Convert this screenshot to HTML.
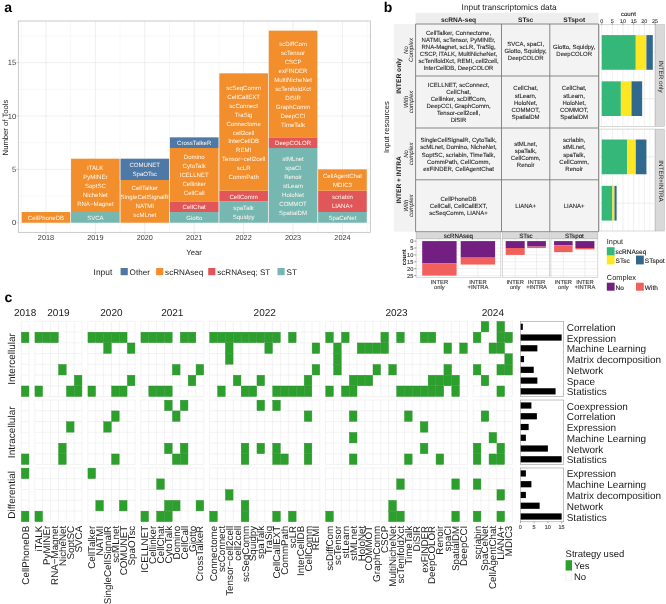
<!DOCTYPE html>
<html><head><meta charset="utf-8"><title>figure</title>
<style>
html,body{margin:0;padding:0;background:#ffffff;}
body{width:666px;height:604px;overflow:hidden;}
svg{display:block;font-family:"Liberation Sans",sans-serif;will-change:transform;text-rendering:geometricPrecision;}
</style></head>
<body>
<svg width="666" height="604" viewBox="0 0 666 604">
<rect x="0" y="0" width="666" height="604" fill="#ffffff"/>
<text x="4.30" y="11.70" font-size="14" fill="#000" font-weight="bold">a</text>
<line x1="18.30" y1="196.02" x2="370.30" y2="196.02" stroke="#f0f0f0" stroke-width="0.5"/>
<line x1="18.30" y1="142.67" x2="370.30" y2="142.67" stroke="#f0f0f0" stroke-width="0.5"/>
<line x1="18.30" y1="89.32" x2="370.30" y2="89.32" stroke="#f0f0f0" stroke-width="0.5"/>
<line x1="18.30" y1="35.97" x2="370.30" y2="35.97" stroke="#f0f0f0" stroke-width="0.5"/>
<line x1="21.24" y1="21.00" x2="21.24" y2="232.30" stroke="#f0f0f0" stroke-width="0.5"/>
<line x1="70.66" y1="21.00" x2="70.66" y2="232.30" stroke="#f0f0f0" stroke-width="0.5"/>
<line x1="120.08" y1="21.00" x2="120.08" y2="232.30" stroke="#f0f0f0" stroke-width="0.5"/>
<line x1="169.50" y1="21.00" x2="169.50" y2="232.30" stroke="#f0f0f0" stroke-width="0.5"/>
<line x1="218.92" y1="21.00" x2="218.92" y2="232.30" stroke="#f0f0f0" stroke-width="0.5"/>
<line x1="268.34" y1="21.00" x2="268.34" y2="232.30" stroke="#f0f0f0" stroke-width="0.5"/>
<line x1="317.76" y1="21.00" x2="317.76" y2="232.30" stroke="#f0f0f0" stroke-width="0.5"/>
<line x1="367.18" y1="21.00" x2="367.18" y2="232.30" stroke="#f0f0f0" stroke-width="0.5"/>
<line x1="18.30" y1="222.70" x2="370.30" y2="222.70" stroke="#e4e4e4" stroke-width="0.6"/>
<line x1="18.30" y1="169.35" x2="370.30" y2="169.35" stroke="#e4e4e4" stroke-width="0.6"/>
<line x1="18.30" y1="116.00" x2="370.30" y2="116.00" stroke="#e4e4e4" stroke-width="0.6"/>
<line x1="18.30" y1="62.65" x2="370.30" y2="62.65" stroke="#e4e4e4" stroke-width="0.6"/>
<line x1="45.95" y1="21.00" x2="45.95" y2="232.30" stroke="#e4e4e4" stroke-width="0.6"/>
<line x1="95.37" y1="21.00" x2="95.37" y2="232.30" stroke="#e4e4e4" stroke-width="0.6"/>
<line x1="144.79" y1="21.00" x2="144.79" y2="232.30" stroke="#e4e4e4" stroke-width="0.6"/>
<line x1="194.21" y1="21.00" x2="194.21" y2="232.30" stroke="#e4e4e4" stroke-width="0.6"/>
<line x1="243.63" y1="21.00" x2="243.63" y2="232.30" stroke="#e4e4e4" stroke-width="0.6"/>
<line x1="293.05" y1="21.00" x2="293.05" y2="232.30" stroke="#e4e4e4" stroke-width="0.6"/>
<line x1="342.47" y1="21.00" x2="342.47" y2="232.30" stroke="#e4e4e4" stroke-width="0.6"/>
<rect x="21.64" y="212.03" width="48.62" height="10.67" fill="#F28E2B"/>
<rect x="71.06" y="212.03" width="48.62" height="10.67" fill="#76B7B2"/>
<rect x="71.06" y="158.68" width="48.62" height="53.35" fill="#F28E2B"/>
<rect x="120.48" y="180.02" width="48.62" height="42.68" fill="#F28E2B"/>
<rect x="120.48" y="158.68" width="48.62" height="21.34" fill="#4E79A7"/>
<rect x="169.90" y="212.03" width="48.62" height="10.67" fill="#76B7B2"/>
<rect x="169.90" y="201.36" width="48.62" height="10.67" fill="#E15759"/>
<rect x="169.90" y="148.01" width="48.62" height="53.35" fill="#F28E2B"/>
<rect x="169.90" y="137.34" width="48.62" height="10.67" fill="#4E79A7"/>
<rect x="219.32" y="201.36" width="48.62" height="21.34" fill="#76B7B2"/>
<rect x="219.32" y="190.69" width="48.62" height="10.67" fill="#E15759"/>
<rect x="219.32" y="73.32" width="48.62" height="117.37" fill="#F28E2B"/>
<rect x="268.74" y="148.01" width="48.62" height="74.69" fill="#76B7B2"/>
<rect x="268.74" y="137.34" width="48.62" height="10.67" fill="#E15759"/>
<rect x="268.74" y="30.64" width="48.62" height="106.70" fill="#F28E2B"/>
<rect x="318.16" y="212.03" width="48.62" height="10.67" fill="#76B7B2"/>
<rect x="318.16" y="190.69" width="48.62" height="21.34" fill="#E15759"/>
<rect x="318.16" y="169.35" width="48.62" height="21.34" fill="#F28E2B"/>
<text x="45.95" y="219.87" font-size="6.05" text-anchor="middle" fill="#fff8ee">CellPhoneDB</text>
<text x="95.37" y="219.87" font-size="6.05" text-anchor="middle" fill="#fff8ee">SVCA</text>
<text x="95.37" y="170.04" font-size="6.05" text-anchor="middle" fill="#fff8ee">iTALK</text>
<text x="95.37" y="178.95" font-size="6.05" text-anchor="middle" fill="#fff8ee">PyMINEr</text>
<text x="95.37" y="187.86" font-size="6.05" text-anchor="middle" fill="#fff8ee">SoptSC</text>
<text x="95.37" y="196.77" font-size="6.05" text-anchor="middle" fill="#fff8ee">NicheNet</text>
<text x="95.37" y="205.68" font-size="6.05" text-anchor="middle" fill="#fff8ee">RNA−Magnet</text>
<text x="144.79" y="190.49" font-size="6.05" text-anchor="middle" fill="#fff8ee">CellTalker</text>
<text x="144.79" y="199.40" font-size="6.05" text-anchor="middle" fill="#fff8ee">SingleCellSignalR</text>
<text x="144.79" y="208.31" font-size="6.05" text-anchor="middle" fill="#fff8ee">NATMI</text>
<text x="144.79" y="217.22" font-size="6.05" text-anchor="middle" fill="#fff8ee">scMLnet</text>
<text x="144.79" y="167.39" font-size="6.05" text-anchor="middle" fill="#fff8ee">COMUNET</text>
<text x="144.79" y="176.30" font-size="6.05" text-anchor="middle" fill="#fff8ee">SpaOTsc</text>
<text x="194.21" y="219.87" font-size="6.05" text-anchor="middle" fill="#fff8ee">Giotto</text>
<text x="194.21" y="209.19" font-size="6.05" text-anchor="middle" fill="#fff8ee">CellChat</text>
<text x="194.21" y="159.37" font-size="6.05" text-anchor="middle" fill="#fff8ee">Domino</text>
<text x="194.21" y="168.28" font-size="6.05" text-anchor="middle" fill="#fff8ee">CytoTalk</text>
<text x="194.21" y="177.19" font-size="6.05" text-anchor="middle" fill="#fff8ee">ICELLNET</text>
<text x="194.21" y="186.09" font-size="6.05" text-anchor="middle" fill="#fff8ee">Cellinker</text>
<text x="194.21" y="195.00" font-size="6.05" text-anchor="middle" fill="#fff8ee">CellCall</text>
<text x="194.21" y="145.17" font-size="6.05" text-anchor="middle" fill="#fff8ee">CrossTalkeR</text>
<text x="243.63" y="210.07" font-size="6.05" text-anchor="middle" fill="#fff8ee">spaTalk</text>
<text x="243.63" y="218.98" font-size="6.05" text-anchor="middle" fill="#fff8ee">Squidpy</text>
<text x="243.63" y="198.52" font-size="6.05" text-anchor="middle" fill="#fff8ee">CellComm</text>
<text x="243.63" y="89.95" font-size="6.05" text-anchor="middle" fill="#fff8ee">scSeqComm</text>
<text x="243.63" y="98.86" font-size="6.05" text-anchor="middle" fill="#fff8ee">CellCallEXT</text>
<text x="243.63" y="107.78" font-size="6.05" text-anchor="middle" fill="#fff8ee">scConnect</text>
<text x="243.63" y="116.69" font-size="6.05" text-anchor="middle" fill="#fff8ee">TraSig</text>
<text x="243.63" y="125.59" font-size="6.05" text-anchor="middle" fill="#fff8ee">Connectome</text>
<text x="243.63" y="134.50" font-size="6.05" text-anchor="middle" fill="#fff8ee">cell2cell</text>
<text x="243.63" y="143.41" font-size="6.05" text-anchor="middle" fill="#fff8ee">InterCellDB</text>
<text x="243.63" y="152.32" font-size="6.05" text-anchor="middle" fill="#fff8ee">REMI</text>
<text x="243.63" y="161.24" font-size="6.05" text-anchor="middle" fill="#fff8ee">Tensor−cell2cell</text>
<text x="243.63" y="170.14" font-size="6.05" text-anchor="middle" fill="#fff8ee">scLR</text>
<text x="243.63" y="179.06" font-size="6.05" text-anchor="middle" fill="#fff8ee">CommPath</text>
<text x="293.05" y="161.12" font-size="6.05" text-anchor="middle" fill="#fff8ee">stMLnet</text>
<text x="293.05" y="170.03" font-size="6.05" text-anchor="middle" fill="#fff8ee">spaCI</text>
<text x="293.05" y="178.94" font-size="6.05" text-anchor="middle" fill="#fff8ee">Renoir</text>
<text x="293.05" y="187.85" font-size="6.05" text-anchor="middle" fill="#fff8ee">stLearn</text>
<text x="293.05" y="196.76" font-size="6.05" text-anchor="middle" fill="#fff8ee">HoloNet</text>
<text x="293.05" y="205.68" font-size="6.05" text-anchor="middle" fill="#fff8ee">COMMOT</text>
<text x="293.05" y="214.59" font-size="6.05" text-anchor="middle" fill="#fff8ee">SpatialDM</text>
<text x="293.05" y="145.17" font-size="6.05" text-anchor="middle" fill="#fff8ee">DeepCOLOR</text>
<text x="293.05" y="46.39" font-size="6.05" text-anchor="middle" fill="#fff8ee">scDiffCom</text>
<text x="293.05" y="55.30" font-size="6.05" text-anchor="middle" fill="#fff8ee">scTensor</text>
<text x="293.05" y="64.21" font-size="6.05" text-anchor="middle" fill="#fff8ee">CSCP</text>
<text x="293.05" y="73.12" font-size="6.05" text-anchor="middle" fill="#fff8ee">exFINDER</text>
<text x="293.05" y="82.03" font-size="6.05" text-anchor="middle" fill="#fff8ee">MultiNicheNet</text>
<text x="293.05" y="90.94" font-size="6.05" text-anchor="middle" fill="#fff8ee">scTenifoldXct</text>
<text x="293.05" y="99.85" font-size="6.05" text-anchor="middle" fill="#fff8ee">DiSIR</text>
<text x="293.05" y="108.76" font-size="6.05" text-anchor="middle" fill="#fff8ee">GraphComm</text>
<text x="293.05" y="117.67" font-size="6.05" text-anchor="middle" fill="#fff8ee">DeepCCI</text>
<text x="293.05" y="126.58" font-size="6.05" text-anchor="middle" fill="#fff8ee">TimeTalk</text>
<text x="342.47" y="219.87" font-size="6.05" text-anchor="middle" fill="#fff8ee">SpaCeNet</text>
<text x="342.47" y="199.41" font-size="6.05" text-anchor="middle" fill="#fff8ee">scriabin</text>
<text x="342.47" y="208.31" font-size="6.05" text-anchor="middle" fill="#fff8ee">LIANA+</text>
<text x="342.47" y="178.06" font-size="6.05" text-anchor="middle" fill="#fff8ee">CellAgentChat</text>
<text x="342.47" y="186.97" font-size="6.05" text-anchor="middle" fill="#fff8ee">MDIC3</text>
<rect x="18.30" y="21.00" width="352.00" height="211.30" fill="none" stroke="#b3b3b3" stroke-width="0.7"/>
<line x1="16.30" y1="222.70" x2="18.30" y2="222.70" stroke="#b3b3b3" stroke-width="0.6"/>
<text x="16.20" y="225.40" font-size="7.6" text-anchor="end" fill="#3a3a3a">0</text>
<line x1="16.30" y1="169.35" x2="18.30" y2="169.35" stroke="#b3b3b3" stroke-width="0.6"/>
<text x="16.20" y="172.05" font-size="7.6" text-anchor="end" fill="#3a3a3a">5</text>
<line x1="16.30" y1="116.00" x2="18.30" y2="116.00" stroke="#b3b3b3" stroke-width="0.6"/>
<text x="16.20" y="118.70" font-size="7.6" text-anchor="end" fill="#3a3a3a">10</text>
<line x1="16.30" y1="62.65" x2="18.30" y2="62.65" stroke="#b3b3b3" stroke-width="0.6"/>
<text x="16.20" y="65.35" font-size="7.6" text-anchor="end" fill="#3a3a3a">15</text>
<line x1="45.95" y1="232.30" x2="45.95" y2="234.30" stroke="#b3b3b3" stroke-width="0.6"/>
<text x="45.95" y="240.00" font-size="7.3" text-anchor="middle" fill="#3a3a3a">2018</text>
<line x1="95.37" y1="232.30" x2="95.37" y2="234.30" stroke="#b3b3b3" stroke-width="0.6"/>
<text x="95.37" y="240.00" font-size="7.3" text-anchor="middle" fill="#3a3a3a">2019</text>
<line x1="144.79" y1="232.30" x2="144.79" y2="234.30" stroke="#b3b3b3" stroke-width="0.6"/>
<text x="144.79" y="240.00" font-size="7.3" text-anchor="middle" fill="#3a3a3a">2020</text>
<line x1="194.21" y1="232.30" x2="194.21" y2="234.30" stroke="#b3b3b3" stroke-width="0.6"/>
<text x="194.21" y="240.00" font-size="7.3" text-anchor="middle" fill="#3a3a3a">2021</text>
<line x1="243.63" y1="232.30" x2="243.63" y2="234.30" stroke="#b3b3b3" stroke-width="0.6"/>
<text x="243.63" y="240.00" font-size="7.3" text-anchor="middle" fill="#3a3a3a">2022</text>
<line x1="293.05" y1="232.30" x2="293.05" y2="234.30" stroke="#b3b3b3" stroke-width="0.6"/>
<text x="293.05" y="240.00" font-size="7.3" text-anchor="middle" fill="#3a3a3a">2023</text>
<line x1="342.47" y1="232.30" x2="342.47" y2="234.30" stroke="#b3b3b3" stroke-width="0.6"/>
<text x="342.47" y="240.00" font-size="7.3" text-anchor="middle" fill="#3a3a3a">2024</text>
<text x="194.00" y="255.40" font-size="7.7" text-anchor="middle" fill="#1a1a1a">Year</text>
<text x="7.90" y="127.50" font-size="7.7" text-anchor="middle" fill="#1a1a1a" transform="rotate(-90 7.90 127.50)">Number of Tools</text>
<text x="93.60" y="274.50" font-size="8.4" fill="#1a1a1a">Input</text>
<rect x="120.60" y="268.00" width="7.20" height="7.20" fill="#4E79A7"/>
<text x="129.60" y="274.50" font-size="8.1" fill="#1a1a1a">Other</text>
<rect x="156.10" y="268.00" width="7.20" height="7.20" fill="#F28E2B"/>
<text x="165.10" y="274.50" font-size="8.1" fill="#1a1a1a">scRNAseq</text>
<rect x="208.20" y="268.00" width="7.20" height="7.20" fill="#E15759"/>
<text x="217.20" y="274.50" font-size="8.1" fill="#1a1a1a">scRNAseq; ST</text>
<rect x="277.50" y="268.00" width="7.20" height="7.20" fill="#76B7B2"/>
<text x="286.50" y="274.50" font-size="8.1" fill="#1a1a1a">ST</text>
<text x="383.80" y="11.70" font-size="14" fill="#000" font-weight="bold">b</text>
<text x="509.10" y="9.90" font-size="8.3" text-anchor="middle" fill="#1a1a1a">Input transcriptomics data</text>
<rect x="415.60" y="12.80" width="183.00" height="11.20" fill="#eeeeee"/>
<rect x="393.80" y="24.00" width="21.80" height="207.70" fill="#f2f2f2"/>
<rect x="415.60" y="24.00" width="183.00" height="207.70" fill="#f3f3f3"/>
<line x1="415.60" y1="24.00" x2="415.60" y2="231.70" stroke="#7a7a7a" stroke-width="0.9"/>
<line x1="501.50" y1="24.00" x2="501.50" y2="231.70" stroke="#7a7a7a" stroke-width="0.9"/>
<line x1="549.80" y1="24.00" x2="549.80" y2="231.70" stroke="#7a7a7a" stroke-width="0.9"/>
<line x1="598.60" y1="24.00" x2="598.60" y2="231.70" stroke="#7a7a7a" stroke-width="0.9"/>
<line x1="415.60" y1="24.00" x2="598.60" y2="24.00" stroke="#7a7a7a" stroke-width="0.9"/>
<line x1="415.60" y1="76.00" x2="598.60" y2="76.00" stroke="#7a7a7a" stroke-width="0.9"/>
<line x1="415.60" y1="128.00" x2="598.60" y2="128.00" stroke="#7a7a7a" stroke-width="0.9"/>
<line x1="415.60" y1="179.80" x2="598.60" y2="179.80" stroke="#7a7a7a" stroke-width="0.9"/>
<line x1="415.60" y1="231.70" x2="598.60" y2="231.70" stroke="#7a7a7a" stroke-width="0.9"/>
<text x="458.55" y="21.80" font-size="6.6" text-anchor="middle" fill="#1a1a1a" font-weight="bold">scRNA-seq</text>
<text x="525.65" y="21.80" font-size="6.6" text-anchor="middle" fill="#1a1a1a" font-weight="bold">STsc</text>
<text x="574.20" y="21.80" font-size="6.6" text-anchor="middle" fill="#1a1a1a" font-weight="bold">STspot</text>
<text x="458.55" y="34.85" font-size="6.0" text-anchor="middle" fill="#262626" stroke="#262626" stroke-width="0.1">CellTalker, Connectome,</text>
<text x="458.55" y="41.95" font-size="6.0" text-anchor="middle" fill="#262626" stroke="#262626" stroke-width="0.1">NATMI, scTensor, PyMINEr,</text>
<text x="458.55" y="49.05" font-size="6.0" text-anchor="middle" fill="#262626" stroke="#262626" stroke-width="0.1">RNA-Magnet, scLR, TraSig,</text>
<text x="458.55" y="56.15" font-size="6.0" text-anchor="middle" fill="#262626" stroke="#262626" stroke-width="0.1">CSCP, iTALK, MultiNicheNet,</text>
<text x="458.55" y="63.25" font-size="6.0" text-anchor="middle" fill="#262626" stroke="#262626" stroke-width="0.1">scTenifoldXct, REMI, cell2cell,</text>
<text x="458.55" y="70.35" font-size="6.0" text-anchor="middle" fill="#262626" stroke="#262626" stroke-width="0.1">InterCellDB, DeepCOLOR</text>
<text x="525.65" y="45.50" font-size="6.0" text-anchor="middle" fill="#262626" stroke="#262626" stroke-width="0.1">SVCA, spaCI,</text>
<text x="525.65" y="52.60" font-size="6.0" text-anchor="middle" fill="#262626" stroke="#262626" stroke-width="0.1">Giotto, Squidpy,</text>
<text x="525.65" y="59.70" font-size="6.0" text-anchor="middle" fill="#262626" stroke="#262626" stroke-width="0.1">DeepCOLOR</text>
<text x="574.20" y="49.05" font-size="6.0" text-anchor="middle" fill="#262626" stroke="#262626" stroke-width="0.1">Giotto, Squidpy,</text>
<text x="574.20" y="56.15" font-size="6.0" text-anchor="middle" fill="#262626" stroke="#262626" stroke-width="0.1">DeepCOLOR</text>
<text x="458.55" y="86.85" font-size="6.0" text-anchor="middle" fill="#262626" stroke="#262626" stroke-width="0.1">ICELLNET, scConnect,</text>
<text x="458.55" y="93.95" font-size="6.0" text-anchor="middle" fill="#262626" stroke="#262626" stroke-width="0.1">CellChat,</text>
<text x="458.55" y="101.05" font-size="6.0" text-anchor="middle" fill="#262626" stroke="#262626" stroke-width="0.1">Cellinker, scDiffCom,</text>
<text x="458.55" y="108.15" font-size="6.0" text-anchor="middle" fill="#262626" stroke="#262626" stroke-width="0.1">DeepCCI, GraphComm,</text>
<text x="458.55" y="115.25" font-size="6.0" text-anchor="middle" fill="#262626" stroke="#262626" stroke-width="0.1">Tensor-cell2cell,</text>
<text x="458.55" y="122.35" font-size="6.0" text-anchor="middle" fill="#262626" stroke="#262626" stroke-width="0.1">DiSIR</text>
<text x="525.65" y="90.40" font-size="6.0" text-anchor="middle" fill="#262626" stroke="#262626" stroke-width="0.1">CellChat,</text>
<text x="525.65" y="97.50" font-size="6.0" text-anchor="middle" fill="#262626" stroke="#262626" stroke-width="0.1">stLearn,</text>
<text x="525.65" y="104.60" font-size="6.0" text-anchor="middle" fill="#262626" stroke="#262626" stroke-width="0.1">HoloNet,</text>
<text x="525.65" y="111.70" font-size="6.0" text-anchor="middle" fill="#262626" stroke="#262626" stroke-width="0.1">COMMOT,</text>
<text x="525.65" y="118.80" font-size="6.0" text-anchor="middle" fill="#262626" stroke="#262626" stroke-width="0.1">SpatialDM</text>
<text x="574.20" y="90.40" font-size="6.0" text-anchor="middle" fill="#262626" stroke="#262626" stroke-width="0.1">CellChat,</text>
<text x="574.20" y="97.50" font-size="6.0" text-anchor="middle" fill="#262626" stroke="#262626" stroke-width="0.1">stLearn,</text>
<text x="574.20" y="104.60" font-size="6.0" text-anchor="middle" fill="#262626" stroke="#262626" stroke-width="0.1">HoloNet,</text>
<text x="574.20" y="111.70" font-size="6.0" text-anchor="middle" fill="#262626" stroke="#262626" stroke-width="0.1">COMMOT,</text>
<text x="574.20" y="118.80" font-size="6.0" text-anchor="middle" fill="#262626" stroke="#262626" stroke-width="0.1">SpatialDM</text>
<text x="458.55" y="142.30" font-size="6.0" text-anchor="middle" fill="#262626" stroke="#262626" stroke-width="0.1">SingleCellSignalR, CytoTalk,</text>
<text x="458.55" y="149.40" font-size="6.0" text-anchor="middle" fill="#262626" stroke="#262626" stroke-width="0.1">scMLnet, Domino, NicheNet,</text>
<text x="458.55" y="156.50" font-size="6.0" text-anchor="middle" fill="#262626" stroke="#262626" stroke-width="0.1">SoptSC, scriabin, TimeTalk,</text>
<text x="458.55" y="163.60" font-size="6.0" text-anchor="middle" fill="#262626" stroke="#262626" stroke-width="0.1">CommPath, CellComm,</text>
<text x="458.55" y="170.70" font-size="6.0" text-anchor="middle" fill="#262626" stroke="#262626" stroke-width="0.1">exFINDER, CellAgentChat</text>
<text x="525.65" y="145.85" font-size="6.0" text-anchor="middle" fill="#262626" stroke="#262626" stroke-width="0.1">stMLnet,</text>
<text x="525.65" y="152.95" font-size="6.0" text-anchor="middle" fill="#262626" stroke="#262626" stroke-width="0.1">spaTalk,</text>
<text x="525.65" y="160.05" font-size="6.0" text-anchor="middle" fill="#262626" stroke="#262626" stroke-width="0.1">CellComm,</text>
<text x="525.65" y="167.15" font-size="6.0" text-anchor="middle" fill="#262626" stroke="#262626" stroke-width="0.1">Renoir</text>
<text x="574.20" y="142.30" font-size="6.0" text-anchor="middle" fill="#262626" stroke="#262626" stroke-width="0.1">scriabin,</text>
<text x="574.20" y="149.40" font-size="6.0" text-anchor="middle" fill="#262626" stroke="#262626" stroke-width="0.1">stMLnet,</text>
<text x="574.20" y="156.50" font-size="6.0" text-anchor="middle" fill="#262626" stroke="#262626" stroke-width="0.1">spaTalk,</text>
<text x="574.20" y="163.60" font-size="6.0" text-anchor="middle" fill="#262626" stroke="#262626" stroke-width="0.1">CellComm,</text>
<text x="574.20" y="170.70" font-size="6.0" text-anchor="middle" fill="#262626" stroke="#262626" stroke-width="0.1">Renoir</text>
<text x="458.55" y="201.25" font-size="6.0" text-anchor="middle" fill="#262626" stroke="#262626" stroke-width="0.1">CellPhoneDB</text>
<text x="458.55" y="208.35" font-size="6.0" text-anchor="middle" fill="#262626" stroke="#262626" stroke-width="0.1">CellCall, CellCallEXT,</text>
<text x="458.55" y="215.45" font-size="6.0" text-anchor="middle" fill="#262626" stroke="#262626" stroke-width="0.1">scSeqComm, LIANA+</text>
<text x="525.65" y="208.35" font-size="6.0" text-anchor="middle" fill="#262626" stroke="#262626" stroke-width="0.1">LIANA+</text>
<text x="574.20" y="208.35" font-size="6.0" text-anchor="middle" fill="#262626" stroke="#262626" stroke-width="0.1">LIANA+</text>
<text x="0" y="0" font-size="6.7" text-anchor="middle" fill="#1a1a1a" font-weight="bold" transform="translate(400.60 76.00) rotate(-90)">INTER only</text>
<text x="0" y="0" font-size="6.6" text-anchor="middle" fill="#1a1a1a" font-weight="bold" transform="translate(400.60 179.85) rotate(-90)">INTER + INTRA</text>
<text x="0" y="0" font-size="6.1" text-anchor="middle" fill="#1a1a1a" font-style="italic" transform="translate(408.00 50.00) rotate(-90)">No</text>
<text x="0" y="0" font-size="6.1" text-anchor="middle" fill="#1a1a1a" font-style="italic" transform="translate(412.90 50.00) rotate(-90)">Complex</text>
<text x="0" y="0" font-size="6.1" text-anchor="middle" fill="#1a1a1a" font-style="italic" transform="translate(408.00 102.00) rotate(-90)">With</text>
<text x="0" y="0" font-size="6.1" text-anchor="middle" fill="#1a1a1a" font-style="italic" transform="translate(412.90 102.00) rotate(-90)">complex</text>
<text x="0" y="0" font-size="6.1" text-anchor="middle" fill="#1a1a1a" font-style="italic" transform="translate(408.00 153.90) rotate(-90)">No</text>
<text x="0" y="0" font-size="6.1" text-anchor="middle" fill="#1a1a1a" font-style="italic" transform="translate(412.90 153.90) rotate(-90)">complex</text>
<text x="0" y="0" font-size="6.1" text-anchor="middle" fill="#1a1a1a" font-style="italic" transform="translate(408.00 205.75) rotate(-90)">With</text>
<text x="0" y="0" font-size="6.1" text-anchor="middle" fill="#1a1a1a" font-style="italic" transform="translate(412.90 205.75) rotate(-90)">complex</text>
<text x="0" y="0" font-size="7.5" text-anchor="middle" fill="#1a1a1a" transform="translate(388.70 127.20) rotate(-90)">Input resources</text>
<rect x="599.30" y="24.70" width="55.90" height="101.70" fill="#ffffff"/>
<line x1="607.03" y1="24.70" x2="607.03" y2="126.40" stroke="#f0f0f0" stroke-width="0.5"/>
<line x1="617.68" y1="24.70" x2="617.68" y2="126.40" stroke="#f0f0f0" stroke-width="0.5"/>
<line x1="628.33" y1="24.70" x2="628.33" y2="126.40" stroke="#f0f0f0" stroke-width="0.5"/>
<line x1="638.98" y1="24.70" x2="638.98" y2="126.40" stroke="#f0f0f0" stroke-width="0.5"/>
<line x1="649.62" y1="24.70" x2="649.62" y2="126.40" stroke="#f0f0f0" stroke-width="0.5"/>
<line x1="601.70" y1="24.70" x2="601.70" y2="126.40" stroke="#e4e4e4" stroke-width="0.6"/>
<line x1="612.35" y1="24.70" x2="612.35" y2="126.40" stroke="#e4e4e4" stroke-width="0.6"/>
<line x1="623.00" y1="24.70" x2="623.00" y2="126.40" stroke="#e4e4e4" stroke-width="0.6"/>
<line x1="633.65" y1="24.70" x2="633.65" y2="126.40" stroke="#e4e4e4" stroke-width="0.6"/>
<line x1="644.30" y1="24.70" x2="644.30" y2="126.40" stroke="#e4e4e4" stroke-width="0.6"/>
<line x1="654.95" y1="24.70" x2="654.95" y2="126.40" stroke="#e4e4e4" stroke-width="0.6"/>
<line x1="599.30" y1="52.44" x2="655.20" y2="52.44" stroke="#e4e4e4" stroke-width="0.6"/>
<line x1="599.30" y1="98.66" x2="655.20" y2="98.66" stroke="#e4e4e4" stroke-width="0.6"/>
<rect x="601.70" y="35.10" width="34.08" height="34.67" fill="#35B779"/>
<rect x="635.78" y="35.10" width="10.65" height="34.67" fill="#FDE725"/>
<rect x="646.43" y="35.10" width="6.39" height="34.67" fill="#31688E"/>
<rect x="601.70" y="81.33" width="19.17" height="34.67" fill="#35B779"/>
<rect x="620.87" y="81.33" width="10.65" height="34.67" fill="#FDE725"/>
<rect x="631.52" y="81.33" width="10.65" height="34.67" fill="#31688E"/>
<rect x="599.30" y="24.70" width="55.90" height="101.70" fill="none" stroke="#c8c8c8" stroke-width="0.7"/>
<rect x="655.20" y="24.70" width="9.10" height="101.70" fill="#d9d9d9" stroke="#b0b0b0" stroke-width="0.5"/>
<text x="0" y="0" font-size="6.3" text-anchor="middle" fill="#1a1a1a" transform="translate(659.00 76.55) rotate(90)">INTER only</text>
<rect x="599.30" y="129.10" width="55.90" height="101.90" fill="#ffffff"/>
<line x1="607.03" y1="129.10" x2="607.03" y2="231.00" stroke="#f0f0f0" stroke-width="0.5"/>
<line x1="617.68" y1="129.10" x2="617.68" y2="231.00" stroke="#f0f0f0" stroke-width="0.5"/>
<line x1="628.33" y1="129.10" x2="628.33" y2="231.00" stroke="#f0f0f0" stroke-width="0.5"/>
<line x1="638.98" y1="129.10" x2="638.98" y2="231.00" stroke="#f0f0f0" stroke-width="0.5"/>
<line x1="649.62" y1="129.10" x2="649.62" y2="231.00" stroke="#f0f0f0" stroke-width="0.5"/>
<line x1="601.70" y1="129.10" x2="601.70" y2="231.00" stroke="#e4e4e4" stroke-width="0.6"/>
<line x1="612.35" y1="129.10" x2="612.35" y2="231.00" stroke="#e4e4e4" stroke-width="0.6"/>
<line x1="623.00" y1="129.10" x2="623.00" y2="231.00" stroke="#e4e4e4" stroke-width="0.6"/>
<line x1="633.65" y1="129.10" x2="633.65" y2="231.00" stroke="#e4e4e4" stroke-width="0.6"/>
<line x1="644.30" y1="129.10" x2="644.30" y2="231.00" stroke="#e4e4e4" stroke-width="0.6"/>
<line x1="654.95" y1="129.10" x2="654.95" y2="231.00" stroke="#e4e4e4" stroke-width="0.6"/>
<line x1="599.30" y1="156.89" x2="655.20" y2="156.89" stroke="#e4e4e4" stroke-width="0.6"/>
<line x1="599.30" y1="203.21" x2="655.20" y2="203.21" stroke="#e4e4e4" stroke-width="0.6"/>
<rect x="601.70" y="139.52" width="25.56" height="34.74" fill="#35B779"/>
<rect x="627.26" y="139.52" width="8.52" height="34.74" fill="#FDE725"/>
<rect x="635.78" y="139.52" width="10.65" height="34.74" fill="#31688E"/>
<rect x="601.70" y="185.84" width="10.65" height="34.74" fill="#35B779"/>
<rect x="612.35" y="185.84" width="2.13" height="34.74" fill="#FDE725"/>
<rect x="614.48" y="185.84" width="2.13" height="34.74" fill="#31688E"/>
<rect x="599.30" y="129.10" width="55.90" height="101.90" fill="none" stroke="#c8c8c8" stroke-width="0.7"/>
<rect x="655.20" y="129.10" width="9.10" height="101.90" fill="#d9d9d9" stroke="#b0b0b0" stroke-width="0.5"/>
<text x="0" y="0" font-size="6.3" text-anchor="middle" fill="#1a1a1a" transform="translate(659.00 181.05) rotate(90)">INTER+INTRA</text>
<line x1="601.70" y1="23.20" x2="601.70" y2="24.70" stroke="#555" stroke-width="0.6"/>
<text x="601.70" y="22.80" font-size="5.4" text-anchor="middle" fill="#3a3a3a" stroke="#3a3a3a" stroke-width="0.12">0</text>
<line x1="612.35" y1="23.20" x2="612.35" y2="24.70" stroke="#555" stroke-width="0.6"/>
<text x="612.35" y="22.80" font-size="5.4" text-anchor="middle" fill="#3a3a3a" stroke="#3a3a3a" stroke-width="0.12">5</text>
<line x1="623.00" y1="23.20" x2="623.00" y2="24.70" stroke="#555" stroke-width="0.6"/>
<text x="623.00" y="22.80" font-size="5.4" text-anchor="middle" fill="#3a3a3a" stroke="#3a3a3a" stroke-width="0.12">10</text>
<line x1="633.65" y1="23.20" x2="633.65" y2="24.70" stroke="#555" stroke-width="0.6"/>
<text x="633.65" y="22.80" font-size="5.4" text-anchor="middle" fill="#3a3a3a" stroke="#3a3a3a" stroke-width="0.12">15</text>
<line x1="644.30" y1="23.20" x2="644.30" y2="24.70" stroke="#555" stroke-width="0.6"/>
<text x="644.30" y="22.80" font-size="5.4" text-anchor="middle" fill="#3a3a3a" stroke="#3a3a3a" stroke-width="0.12">20</text>
<line x1="654.95" y1="23.20" x2="654.95" y2="24.70" stroke="#555" stroke-width="0.6"/>
<text x="654.95" y="22.80" font-size="5.4" text-anchor="middle" fill="#3a3a3a" stroke="#3a3a3a" stroke-width="0.12">25</text>
<text x="628.40" y="16.20" font-size="6.1" text-anchor="middle" fill="#1a1a1a" stroke="#1a1a1a" stroke-width="0.12">count</text>
<rect x="416.10" y="238.80" width="84.70" height="38.50" fill="#ffffff"/>
<line x1="416.10" y1="244.55" x2="500.80" y2="244.55" stroke="#f0f0f0" stroke-width="0.5"/>
<line x1="416.10" y1="251.45" x2="500.80" y2="251.45" stroke="#f0f0f0" stroke-width="0.5"/>
<line x1="416.10" y1="258.35" x2="500.80" y2="258.35" stroke="#f0f0f0" stroke-width="0.5"/>
<line x1="416.10" y1="265.25" x2="500.80" y2="265.25" stroke="#f0f0f0" stroke-width="0.5"/>
<line x1="416.10" y1="272.15" x2="500.80" y2="272.15" stroke="#f0f0f0" stroke-width="0.5"/>
<line x1="416.10" y1="241.10" x2="500.80" y2="241.10" stroke="#e4e4e4" stroke-width="0.6"/>
<line x1="416.10" y1="248.00" x2="500.80" y2="248.00" stroke="#e4e4e4" stroke-width="0.6"/>
<line x1="416.10" y1="254.90" x2="500.80" y2="254.90" stroke="#e4e4e4" stroke-width="0.6"/>
<line x1="416.10" y1="261.80" x2="500.80" y2="261.80" stroke="#e4e4e4" stroke-width="0.6"/>
<line x1="416.10" y1="268.70" x2="500.80" y2="268.70" stroke="#e4e4e4" stroke-width="0.6"/>
<line x1="416.10" y1="275.60" x2="500.80" y2="275.60" stroke="#e4e4e4" stroke-width="0.6"/>
<line x1="439.40" y1="238.80" x2="439.40" y2="277.30" stroke="#e4e4e4" stroke-width="0.6"/>
<line x1="477.90" y1="238.80" x2="477.90" y2="277.30" stroke="#e4e4e4" stroke-width="0.6"/>
<rect x="422.20" y="241.10" width="34.40" height="22.08" fill="#721F81"/>
<rect x="422.20" y="263.18" width="34.40" height="12.42" fill="#F1605D"/>
<rect x="460.70" y="241.10" width="34.40" height="16.56" fill="#721F81"/>
<rect x="460.70" y="257.66" width="34.40" height="6.90" fill="#F1605D"/>
<rect x="416.10" y="238.80" width="84.70" height="38.50" fill="none" stroke="#c8c8c8" stroke-width="0.7"/>
<rect x="416.10" y="232.00" width="84.70" height="6.80" fill="#d9d9d9" stroke="#b0b0b0" stroke-width="0.5"/>
<text x="458.45" y="237.70" font-size="6.2" text-anchor="middle" fill="#1a1a1a" stroke="#1a1a1a" stroke-width="0.12">scRNAseq</text>
<text x="439.40" y="284.30" font-size="5.8" text-anchor="middle" fill="#3a3a3a" stroke="#3a3a3a" stroke-width="0.12">INTER</text>
<text x="439.40" y="288.60" font-size="5.8" text-anchor="middle" fill="#3a3a3a" stroke="#3a3a3a" stroke-width="0.12">only</text>
<text x="477.90" y="284.30" font-size="5.8" text-anchor="middle" fill="#3a3a3a" stroke="#3a3a3a" stroke-width="0.12">INTER</text>
<text x="477.90" y="288.60" font-size="5.8" text-anchor="middle" fill="#3a3a3a" stroke="#3a3a3a" stroke-width="0.12">+INTRA</text>
<rect x="502.30" y="238.80" width="47.20" height="38.50" fill="#ffffff"/>
<line x1="502.30" y1="244.55" x2="549.50" y2="244.55" stroke="#f0f0f0" stroke-width="0.5"/>
<line x1="502.30" y1="251.45" x2="549.50" y2="251.45" stroke="#f0f0f0" stroke-width="0.5"/>
<line x1="502.30" y1="258.35" x2="549.50" y2="258.35" stroke="#f0f0f0" stroke-width="0.5"/>
<line x1="502.30" y1="265.25" x2="549.50" y2="265.25" stroke="#f0f0f0" stroke-width="0.5"/>
<line x1="502.30" y1="272.15" x2="549.50" y2="272.15" stroke="#f0f0f0" stroke-width="0.5"/>
<line x1="502.30" y1="241.10" x2="549.50" y2="241.10" stroke="#e4e4e4" stroke-width="0.6"/>
<line x1="502.30" y1="248.00" x2="549.50" y2="248.00" stroke="#e4e4e4" stroke-width="0.6"/>
<line x1="502.30" y1="254.90" x2="549.50" y2="254.90" stroke="#e4e4e4" stroke-width="0.6"/>
<line x1="502.30" y1="261.80" x2="549.50" y2="261.80" stroke="#e4e4e4" stroke-width="0.6"/>
<line x1="502.30" y1="268.70" x2="549.50" y2="268.70" stroke="#e4e4e4" stroke-width="0.6"/>
<line x1="502.30" y1="275.60" x2="549.50" y2="275.60" stroke="#e4e4e4" stroke-width="0.6"/>
<line x1="515.20" y1="238.80" x2="515.20" y2="277.30" stroke="#e4e4e4" stroke-width="0.6"/>
<line x1="536.55" y1="238.80" x2="536.55" y2="277.30" stroke="#e4e4e4" stroke-width="0.6"/>
<rect x="505.70" y="241.10" width="19.00" height="6.90" fill="#721F81"/>
<rect x="505.70" y="248.00" width="19.00" height="6.90" fill="#F1605D"/>
<rect x="527.20" y="241.10" width="18.70" height="5.52" fill="#721F81"/>
<rect x="527.20" y="246.62" width="18.70" height="1.38" fill="#F1605D"/>
<rect x="502.30" y="238.80" width="47.20" height="38.50" fill="none" stroke="#c8c8c8" stroke-width="0.7"/>
<rect x="502.30" y="232.00" width="47.20" height="6.80" fill="#d9d9d9" stroke="#b0b0b0" stroke-width="0.5"/>
<text x="525.90" y="237.70" font-size="6.2" text-anchor="middle" fill="#1a1a1a" stroke="#1a1a1a" stroke-width="0.12">STsc</text>
<text x="515.20" y="284.30" font-size="5.8" text-anchor="middle" fill="#3a3a3a" stroke="#3a3a3a" stroke-width="0.12">INTER</text>
<text x="515.20" y="288.60" font-size="5.8" text-anchor="middle" fill="#3a3a3a" stroke="#3a3a3a" stroke-width="0.12">only</text>
<text x="536.55" y="284.30" font-size="5.8" text-anchor="middle" fill="#3a3a3a" stroke="#3a3a3a" stroke-width="0.12">INTER</text>
<text x="536.55" y="288.60" font-size="5.8" text-anchor="middle" fill="#3a3a3a" stroke="#3a3a3a" stroke-width="0.12">+INTRA</text>
<rect x="550.90" y="238.80" width="46.90" height="38.50" fill="#ffffff"/>
<line x1="550.90" y1="244.55" x2="597.80" y2="244.55" stroke="#f0f0f0" stroke-width="0.5"/>
<line x1="550.90" y1="251.45" x2="597.80" y2="251.45" stroke="#f0f0f0" stroke-width="0.5"/>
<line x1="550.90" y1="258.35" x2="597.80" y2="258.35" stroke="#f0f0f0" stroke-width="0.5"/>
<line x1="550.90" y1="265.25" x2="597.80" y2="265.25" stroke="#f0f0f0" stroke-width="0.5"/>
<line x1="550.90" y1="272.15" x2="597.80" y2="272.15" stroke="#f0f0f0" stroke-width="0.5"/>
<line x1="550.90" y1="241.10" x2="597.80" y2="241.10" stroke="#e4e4e4" stroke-width="0.6"/>
<line x1="550.90" y1="248.00" x2="597.80" y2="248.00" stroke="#e4e4e4" stroke-width="0.6"/>
<line x1="550.90" y1="254.90" x2="597.80" y2="254.90" stroke="#e4e4e4" stroke-width="0.6"/>
<line x1="550.90" y1="261.80" x2="597.80" y2="261.80" stroke="#e4e4e4" stroke-width="0.6"/>
<line x1="550.90" y1="268.70" x2="597.80" y2="268.70" stroke="#e4e4e4" stroke-width="0.6"/>
<line x1="550.90" y1="275.60" x2="597.80" y2="275.60" stroke="#e4e4e4" stroke-width="0.6"/>
<line x1="563.35" y1="238.80" x2="563.35" y2="277.30" stroke="#e4e4e4" stroke-width="0.6"/>
<line x1="584.90" y1="238.80" x2="584.90" y2="277.30" stroke="#e4e4e4" stroke-width="0.6"/>
<rect x="554.10" y="241.10" width="18.50" height="4.14" fill="#721F81"/>
<rect x="554.10" y="245.24" width="18.50" height="6.90" fill="#F1605D"/>
<rect x="575.40" y="241.10" width="19.00" height="6.90" fill="#721F81"/>
<rect x="575.40" y="248.00" width="19.00" height="1.38" fill="#F1605D"/>
<rect x="550.90" y="238.80" width="46.90" height="38.50" fill="none" stroke="#c8c8c8" stroke-width="0.7"/>
<rect x="550.90" y="232.00" width="46.90" height="6.80" fill="#d9d9d9" stroke="#b0b0b0" stroke-width="0.5"/>
<text x="574.35" y="237.70" font-size="6.2" text-anchor="middle" fill="#1a1a1a" stroke="#1a1a1a" stroke-width="0.12">STspot</text>
<text x="563.35" y="284.30" font-size="5.8" text-anchor="middle" fill="#3a3a3a" stroke="#3a3a3a" stroke-width="0.12">INTER</text>
<text x="563.35" y="288.60" font-size="5.8" text-anchor="middle" fill="#3a3a3a" stroke="#3a3a3a" stroke-width="0.12">only</text>
<text x="584.90" y="284.30" font-size="5.8" text-anchor="middle" fill="#3a3a3a" stroke="#3a3a3a" stroke-width="0.12">INTER</text>
<text x="584.90" y="288.60" font-size="5.8" text-anchor="middle" fill="#3a3a3a" stroke="#3a3a3a" stroke-width="0.12">+INTRA</text>
<line x1="414.30" y1="241.10" x2="416.10" y2="241.10" stroke="#555" stroke-width="0.6"/>
<text x="413.40" y="243.10" font-size="5.7" text-anchor="end" fill="#3a3a3a" stroke="#3a3a3a" stroke-width="0.12">0</text>
<line x1="414.30" y1="248.00" x2="416.10" y2="248.00" stroke="#555" stroke-width="0.6"/>
<text x="413.40" y="250.00" font-size="5.7" text-anchor="end" fill="#3a3a3a" stroke="#3a3a3a" stroke-width="0.12">5</text>
<line x1="414.30" y1="254.90" x2="416.10" y2="254.90" stroke="#555" stroke-width="0.6"/>
<text x="413.40" y="256.90" font-size="5.7" text-anchor="end" fill="#3a3a3a" stroke="#3a3a3a" stroke-width="0.12">10</text>
<line x1="414.30" y1="261.80" x2="416.10" y2="261.80" stroke="#555" stroke-width="0.6"/>
<text x="413.40" y="263.80" font-size="5.7" text-anchor="end" fill="#3a3a3a" stroke="#3a3a3a" stroke-width="0.12">15</text>
<line x1="414.30" y1="268.70" x2="416.10" y2="268.70" stroke="#555" stroke-width="0.6"/>
<text x="413.40" y="270.70" font-size="5.7" text-anchor="end" fill="#3a3a3a" stroke="#3a3a3a" stroke-width="0.12">20</text>
<line x1="414.30" y1="275.60" x2="416.10" y2="275.60" stroke="#555" stroke-width="0.6"/>
<text x="413.40" y="277.60" font-size="5.7" text-anchor="end" fill="#3a3a3a" stroke="#3a3a3a" stroke-width="0.12">25</text>
<text x="0" y="0" font-size="5.9" text-anchor="middle" fill="#1a1a1a" font-weight="bold" transform="translate(405.80 257.30) rotate(-90)">count</text>
<text x="606.80" y="243.60" font-size="7.3" fill="#1a1a1a">Input</text>
<rect x="606.80" y="247.20" width="7.80" height="8.40" fill="#35B779"/>
<text x="615.60" y="254.00" font-size="6.5" fill="#1a1a1a" stroke="#1a1a1a" stroke-width="0.12">scRNAseq</text>
<rect x="606.80" y="255.60" width="7.80" height="8.80" fill="#FDE725"/>
<text x="615.60" y="263.00" font-size="6.5" fill="#1a1a1a" stroke="#1a1a1a" stroke-width="0.12">STsc</text>
<rect x="636.00" y="255.60" width="7.80" height="8.80" fill="#31688E"/>
<text x="644.80" y="263.00" font-size="6.5" fill="#1a1a1a" stroke="#1a1a1a" stroke-width="0.12">STspot</text>
<text x="606.80" y="279.50" font-size="7.4" fill="#1a1a1a">Complex</text>
<rect x="606.80" y="282.70" width="7.80" height="8.00" fill="#721F81"/>
<text x="615.60" y="289.50" font-size="6.5" fill="#1a1a1a" stroke="#1a1a1a" stroke-width="0.12">No</text>
<rect x="636.00" y="282.70" width="7.80" height="8.00" fill="#F1605D"/>
<text x="644.80" y="289.50" font-size="6.5" fill="#1a1a1a" stroke="#1a1a1a" stroke-width="0.12">With</text>
<text x="4.40" y="301.80" font-size="14" fill="#000" font-weight="bold">c</text>
<rect x="21.20" y="321.30" width="7.88" height="75.32" fill="#ffffff"/>
<rect x="34.80" y="321.30" width="47.28" height="75.32" fill="#ffffff"/>
<rect x="87.80" y="321.30" width="47.28" height="75.32" fill="#ffffff"/>
<rect x="140.80" y="321.30" width="63.04" height="75.32" fill="#ffffff"/>
<rect x="209.56" y="321.30" width="110.32" height="75.32" fill="#ffffff"/>
<rect x="325.60" y="321.30" width="141.84" height="75.32" fill="#ffffff"/>
<rect x="473.16" y="321.30" width="39.40" height="75.32" fill="#ffffff"/>
<line x1="21.20" y1="321.30" x2="21.20" y2="396.62" stroke="#ebebeb" stroke-width="0.6"/>
<line x1="29.08" y1="321.30" x2="29.08" y2="396.62" stroke="#ebebeb" stroke-width="0.6"/>
<line x1="21.20" y1="321.30" x2="29.08" y2="321.30" stroke="#ebebeb" stroke-width="0.6"/>
<line x1="21.20" y1="332.06" x2="29.08" y2="332.06" stroke="#ebebeb" stroke-width="0.6"/>
<line x1="21.20" y1="342.82" x2="29.08" y2="342.82" stroke="#ebebeb" stroke-width="0.6"/>
<line x1="21.20" y1="353.58" x2="29.08" y2="353.58" stroke="#ebebeb" stroke-width="0.6"/>
<line x1="21.20" y1="364.34" x2="29.08" y2="364.34" stroke="#ebebeb" stroke-width="0.6"/>
<line x1="21.20" y1="375.10" x2="29.08" y2="375.10" stroke="#ebebeb" stroke-width="0.6"/>
<line x1="21.20" y1="385.86" x2="29.08" y2="385.86" stroke="#ebebeb" stroke-width="0.6"/>
<line x1="21.20" y1="396.62" x2="29.08" y2="396.62" stroke="#ebebeb" stroke-width="0.6"/>
<line x1="34.80" y1="321.30" x2="34.80" y2="396.62" stroke="#ebebeb" stroke-width="0.6"/>
<line x1="42.68" y1="321.30" x2="42.68" y2="396.62" stroke="#ebebeb" stroke-width="0.6"/>
<line x1="50.56" y1="321.30" x2="50.56" y2="396.62" stroke="#ebebeb" stroke-width="0.6"/>
<line x1="58.44" y1="321.30" x2="58.44" y2="396.62" stroke="#ebebeb" stroke-width="0.6"/>
<line x1="66.32" y1="321.30" x2="66.32" y2="396.62" stroke="#ebebeb" stroke-width="0.6"/>
<line x1="74.20" y1="321.30" x2="74.20" y2="396.62" stroke="#ebebeb" stroke-width="0.6"/>
<line x1="82.08" y1="321.30" x2="82.08" y2="396.62" stroke="#ebebeb" stroke-width="0.6"/>
<line x1="34.80" y1="321.30" x2="82.08" y2="321.30" stroke="#ebebeb" stroke-width="0.6"/>
<line x1="34.80" y1="332.06" x2="82.08" y2="332.06" stroke="#ebebeb" stroke-width="0.6"/>
<line x1="34.80" y1="342.82" x2="82.08" y2="342.82" stroke="#ebebeb" stroke-width="0.6"/>
<line x1="34.80" y1="353.58" x2="82.08" y2="353.58" stroke="#ebebeb" stroke-width="0.6"/>
<line x1="34.80" y1="364.34" x2="82.08" y2="364.34" stroke="#ebebeb" stroke-width="0.6"/>
<line x1="34.80" y1="375.10" x2="82.08" y2="375.10" stroke="#ebebeb" stroke-width="0.6"/>
<line x1="34.80" y1="385.86" x2="82.08" y2="385.86" stroke="#ebebeb" stroke-width="0.6"/>
<line x1="34.80" y1="396.62" x2="82.08" y2="396.62" stroke="#ebebeb" stroke-width="0.6"/>
<line x1="87.80" y1="321.30" x2="87.80" y2="396.62" stroke="#ebebeb" stroke-width="0.6"/>
<line x1="95.68" y1="321.30" x2="95.68" y2="396.62" stroke="#ebebeb" stroke-width="0.6"/>
<line x1="103.56" y1="321.30" x2="103.56" y2="396.62" stroke="#ebebeb" stroke-width="0.6"/>
<line x1="111.44" y1="321.30" x2="111.44" y2="396.62" stroke="#ebebeb" stroke-width="0.6"/>
<line x1="119.32" y1="321.30" x2="119.32" y2="396.62" stroke="#ebebeb" stroke-width="0.6"/>
<line x1="127.20" y1="321.30" x2="127.20" y2="396.62" stroke="#ebebeb" stroke-width="0.6"/>
<line x1="135.08" y1="321.30" x2="135.08" y2="396.62" stroke="#ebebeb" stroke-width="0.6"/>
<line x1="87.80" y1="321.30" x2="135.08" y2="321.30" stroke="#ebebeb" stroke-width="0.6"/>
<line x1="87.80" y1="332.06" x2="135.08" y2="332.06" stroke="#ebebeb" stroke-width="0.6"/>
<line x1="87.80" y1="342.82" x2="135.08" y2="342.82" stroke="#ebebeb" stroke-width="0.6"/>
<line x1="87.80" y1="353.58" x2="135.08" y2="353.58" stroke="#ebebeb" stroke-width="0.6"/>
<line x1="87.80" y1="364.34" x2="135.08" y2="364.34" stroke="#ebebeb" stroke-width="0.6"/>
<line x1="87.80" y1="375.10" x2="135.08" y2="375.10" stroke="#ebebeb" stroke-width="0.6"/>
<line x1="87.80" y1="385.86" x2="135.08" y2="385.86" stroke="#ebebeb" stroke-width="0.6"/>
<line x1="87.80" y1="396.62" x2="135.08" y2="396.62" stroke="#ebebeb" stroke-width="0.6"/>
<line x1="140.80" y1="321.30" x2="140.80" y2="396.62" stroke="#ebebeb" stroke-width="0.6"/>
<line x1="148.68" y1="321.30" x2="148.68" y2="396.62" stroke="#ebebeb" stroke-width="0.6"/>
<line x1="156.56" y1="321.30" x2="156.56" y2="396.62" stroke="#ebebeb" stroke-width="0.6"/>
<line x1="164.44" y1="321.30" x2="164.44" y2="396.62" stroke="#ebebeb" stroke-width="0.6"/>
<line x1="172.32" y1="321.30" x2="172.32" y2="396.62" stroke="#ebebeb" stroke-width="0.6"/>
<line x1="180.20" y1="321.30" x2="180.20" y2="396.62" stroke="#ebebeb" stroke-width="0.6"/>
<line x1="188.08" y1="321.30" x2="188.08" y2="396.62" stroke="#ebebeb" stroke-width="0.6"/>
<line x1="195.96" y1="321.30" x2="195.96" y2="396.62" stroke="#ebebeb" stroke-width="0.6"/>
<line x1="203.84" y1="321.30" x2="203.84" y2="396.62" stroke="#ebebeb" stroke-width="0.6"/>
<line x1="140.80" y1="321.30" x2="203.84" y2="321.30" stroke="#ebebeb" stroke-width="0.6"/>
<line x1="140.80" y1="332.06" x2="203.84" y2="332.06" stroke="#ebebeb" stroke-width="0.6"/>
<line x1="140.80" y1="342.82" x2="203.84" y2="342.82" stroke="#ebebeb" stroke-width="0.6"/>
<line x1="140.80" y1="353.58" x2="203.84" y2="353.58" stroke="#ebebeb" stroke-width="0.6"/>
<line x1="140.80" y1="364.34" x2="203.84" y2="364.34" stroke="#ebebeb" stroke-width="0.6"/>
<line x1="140.80" y1="375.10" x2="203.84" y2="375.10" stroke="#ebebeb" stroke-width="0.6"/>
<line x1="140.80" y1="385.86" x2="203.84" y2="385.86" stroke="#ebebeb" stroke-width="0.6"/>
<line x1="140.80" y1="396.62" x2="203.84" y2="396.62" stroke="#ebebeb" stroke-width="0.6"/>
<line x1="209.56" y1="321.30" x2="209.56" y2="396.62" stroke="#ebebeb" stroke-width="0.6"/>
<line x1="217.44" y1="321.30" x2="217.44" y2="396.62" stroke="#ebebeb" stroke-width="0.6"/>
<line x1="225.32" y1="321.30" x2="225.32" y2="396.62" stroke="#ebebeb" stroke-width="0.6"/>
<line x1="233.20" y1="321.30" x2="233.20" y2="396.62" stroke="#ebebeb" stroke-width="0.6"/>
<line x1="241.08" y1="321.30" x2="241.08" y2="396.62" stroke="#ebebeb" stroke-width="0.6"/>
<line x1="248.96" y1="321.30" x2="248.96" y2="396.62" stroke="#ebebeb" stroke-width="0.6"/>
<line x1="256.84" y1="321.30" x2="256.84" y2="396.62" stroke="#ebebeb" stroke-width="0.6"/>
<line x1="264.72" y1="321.30" x2="264.72" y2="396.62" stroke="#ebebeb" stroke-width="0.6"/>
<line x1="272.60" y1="321.30" x2="272.60" y2="396.62" stroke="#ebebeb" stroke-width="0.6"/>
<line x1="280.48" y1="321.30" x2="280.48" y2="396.62" stroke="#ebebeb" stroke-width="0.6"/>
<line x1="288.36" y1="321.30" x2="288.36" y2="396.62" stroke="#ebebeb" stroke-width="0.6"/>
<line x1="296.24" y1="321.30" x2="296.24" y2="396.62" stroke="#ebebeb" stroke-width="0.6"/>
<line x1="304.12" y1="321.30" x2="304.12" y2="396.62" stroke="#ebebeb" stroke-width="0.6"/>
<line x1="312.00" y1="321.30" x2="312.00" y2="396.62" stroke="#ebebeb" stroke-width="0.6"/>
<line x1="319.88" y1="321.30" x2="319.88" y2="396.62" stroke="#ebebeb" stroke-width="0.6"/>
<line x1="209.56" y1="321.30" x2="319.88" y2="321.30" stroke="#ebebeb" stroke-width="0.6"/>
<line x1="209.56" y1="332.06" x2="319.88" y2="332.06" stroke="#ebebeb" stroke-width="0.6"/>
<line x1="209.56" y1="342.82" x2="319.88" y2="342.82" stroke="#ebebeb" stroke-width="0.6"/>
<line x1="209.56" y1="353.58" x2="319.88" y2="353.58" stroke="#ebebeb" stroke-width="0.6"/>
<line x1="209.56" y1="364.34" x2="319.88" y2="364.34" stroke="#ebebeb" stroke-width="0.6"/>
<line x1="209.56" y1="375.10" x2="319.88" y2="375.10" stroke="#ebebeb" stroke-width="0.6"/>
<line x1="209.56" y1="385.86" x2="319.88" y2="385.86" stroke="#ebebeb" stroke-width="0.6"/>
<line x1="209.56" y1="396.62" x2="319.88" y2="396.62" stroke="#ebebeb" stroke-width="0.6"/>
<line x1="325.60" y1="321.30" x2="325.60" y2="396.62" stroke="#ebebeb" stroke-width="0.6"/>
<line x1="333.48" y1="321.30" x2="333.48" y2="396.62" stroke="#ebebeb" stroke-width="0.6"/>
<line x1="341.36" y1="321.30" x2="341.36" y2="396.62" stroke="#ebebeb" stroke-width="0.6"/>
<line x1="349.24" y1="321.30" x2="349.24" y2="396.62" stroke="#ebebeb" stroke-width="0.6"/>
<line x1="357.12" y1="321.30" x2="357.12" y2="396.62" stroke="#ebebeb" stroke-width="0.6"/>
<line x1="365.00" y1="321.30" x2="365.00" y2="396.62" stroke="#ebebeb" stroke-width="0.6"/>
<line x1="372.88" y1="321.30" x2="372.88" y2="396.62" stroke="#ebebeb" stroke-width="0.6"/>
<line x1="380.76" y1="321.30" x2="380.76" y2="396.62" stroke="#ebebeb" stroke-width="0.6"/>
<line x1="388.64" y1="321.30" x2="388.64" y2="396.62" stroke="#ebebeb" stroke-width="0.6"/>
<line x1="396.52" y1="321.30" x2="396.52" y2="396.62" stroke="#ebebeb" stroke-width="0.6"/>
<line x1="404.40" y1="321.30" x2="404.40" y2="396.62" stroke="#ebebeb" stroke-width="0.6"/>
<line x1="412.28" y1="321.30" x2="412.28" y2="396.62" stroke="#ebebeb" stroke-width="0.6"/>
<line x1="420.16" y1="321.30" x2="420.16" y2="396.62" stroke="#ebebeb" stroke-width="0.6"/>
<line x1="428.04" y1="321.30" x2="428.04" y2="396.62" stroke="#ebebeb" stroke-width="0.6"/>
<line x1="435.92" y1="321.30" x2="435.92" y2="396.62" stroke="#ebebeb" stroke-width="0.6"/>
<line x1="443.80" y1="321.30" x2="443.80" y2="396.62" stroke="#ebebeb" stroke-width="0.6"/>
<line x1="451.68" y1="321.30" x2="451.68" y2="396.62" stroke="#ebebeb" stroke-width="0.6"/>
<line x1="459.56" y1="321.30" x2="459.56" y2="396.62" stroke="#ebebeb" stroke-width="0.6"/>
<line x1="467.44" y1="321.30" x2="467.44" y2="396.62" stroke="#ebebeb" stroke-width="0.6"/>
<line x1="325.60" y1="321.30" x2="467.44" y2="321.30" stroke="#ebebeb" stroke-width="0.6"/>
<line x1="325.60" y1="332.06" x2="467.44" y2="332.06" stroke="#ebebeb" stroke-width="0.6"/>
<line x1="325.60" y1="342.82" x2="467.44" y2="342.82" stroke="#ebebeb" stroke-width="0.6"/>
<line x1="325.60" y1="353.58" x2="467.44" y2="353.58" stroke="#ebebeb" stroke-width="0.6"/>
<line x1="325.60" y1="364.34" x2="467.44" y2="364.34" stroke="#ebebeb" stroke-width="0.6"/>
<line x1="325.60" y1="375.10" x2="467.44" y2="375.10" stroke="#ebebeb" stroke-width="0.6"/>
<line x1="325.60" y1="385.86" x2="467.44" y2="385.86" stroke="#ebebeb" stroke-width="0.6"/>
<line x1="325.60" y1="396.62" x2="467.44" y2="396.62" stroke="#ebebeb" stroke-width="0.6"/>
<line x1="473.16" y1="321.30" x2="473.16" y2="396.62" stroke="#ebebeb" stroke-width="0.6"/>
<line x1="481.04" y1="321.30" x2="481.04" y2="396.62" stroke="#ebebeb" stroke-width="0.6"/>
<line x1="488.92" y1="321.30" x2="488.92" y2="396.62" stroke="#ebebeb" stroke-width="0.6"/>
<line x1="496.80" y1="321.30" x2="496.80" y2="396.62" stroke="#ebebeb" stroke-width="0.6"/>
<line x1="504.68" y1="321.30" x2="504.68" y2="396.62" stroke="#ebebeb" stroke-width="0.6"/>
<line x1="512.56" y1="321.30" x2="512.56" y2="396.62" stroke="#ebebeb" stroke-width="0.6"/>
<line x1="473.16" y1="321.30" x2="512.56" y2="321.30" stroke="#ebebeb" stroke-width="0.6"/>
<line x1="473.16" y1="332.06" x2="512.56" y2="332.06" stroke="#ebebeb" stroke-width="0.6"/>
<line x1="473.16" y1="342.82" x2="512.56" y2="342.82" stroke="#ebebeb" stroke-width="0.6"/>
<line x1="473.16" y1="353.58" x2="512.56" y2="353.58" stroke="#ebebeb" stroke-width="0.6"/>
<line x1="473.16" y1="364.34" x2="512.56" y2="364.34" stroke="#ebebeb" stroke-width="0.6"/>
<line x1="473.16" y1="375.10" x2="512.56" y2="375.10" stroke="#ebebeb" stroke-width="0.6"/>
<line x1="473.16" y1="385.86" x2="512.56" y2="385.86" stroke="#ebebeb" stroke-width="0.6"/>
<line x1="473.16" y1="396.62" x2="512.56" y2="396.62" stroke="#ebebeb" stroke-width="0.6"/>
<rect x="481.19" y="321.45" width="7.58" height="10.46" fill="#2CA02C" stroke="#258a25" stroke-width="0.4"/>
<rect x="496.95" y="321.45" width="7.58" height="10.46" fill="#2CA02C" stroke="#258a25" stroke-width="0.4"/>
<rect x="21.35" y="332.21" width="7.58" height="10.46" fill="#2CA02C" stroke="#258a25" stroke-width="0.4"/>
<rect x="34.95" y="332.21" width="7.58" height="10.46" fill="#2CA02C" stroke="#258a25" stroke-width="0.4"/>
<rect x="42.83" y="332.21" width="7.58" height="10.46" fill="#2CA02C" stroke="#258a25" stroke-width="0.4"/>
<rect x="50.71" y="332.21" width="7.58" height="10.46" fill="#2CA02C" stroke="#258a25" stroke-width="0.4"/>
<rect x="87.95" y="332.21" width="7.58" height="10.46" fill="#2CA02C" stroke="#258a25" stroke-width="0.4"/>
<rect x="95.83" y="332.21" width="7.58" height="10.46" fill="#2CA02C" stroke="#258a25" stroke-width="0.4"/>
<rect x="103.71" y="332.21" width="7.58" height="10.46" fill="#2CA02C" stroke="#258a25" stroke-width="0.4"/>
<rect x="111.59" y="332.21" width="7.58" height="10.46" fill="#2CA02C" stroke="#258a25" stroke-width="0.4"/>
<rect x="119.47" y="332.21" width="7.58" height="10.46" fill="#2CA02C" stroke="#258a25" stroke-width="0.4"/>
<rect x="140.95" y="332.21" width="7.58" height="10.46" fill="#2CA02C" stroke="#258a25" stroke-width="0.4"/>
<rect x="148.83" y="332.21" width="7.58" height="10.46" fill="#2CA02C" stroke="#258a25" stroke-width="0.4"/>
<rect x="156.71" y="332.21" width="7.58" height="10.46" fill="#2CA02C" stroke="#258a25" stroke-width="0.4"/>
<rect x="164.59" y="332.21" width="7.58" height="10.46" fill="#2CA02C" stroke="#258a25" stroke-width="0.4"/>
<rect x="180.35" y="332.21" width="7.58" height="10.46" fill="#2CA02C" stroke="#258a25" stroke-width="0.4"/>
<rect x="188.23" y="332.21" width="7.58" height="10.46" fill="#2CA02C" stroke="#258a25" stroke-width="0.4"/>
<rect x="209.71" y="332.21" width="7.58" height="10.46" fill="#2CA02C" stroke="#258a25" stroke-width="0.4"/>
<rect x="217.59" y="332.21" width="7.58" height="10.46" fill="#2CA02C" stroke="#258a25" stroke-width="0.4"/>
<rect x="225.47" y="332.21" width="7.58" height="10.46" fill="#2CA02C" stroke="#258a25" stroke-width="0.4"/>
<rect x="233.35" y="332.21" width="7.58" height="10.46" fill="#2CA02C" stroke="#258a25" stroke-width="0.4"/>
<rect x="241.23" y="332.21" width="7.58" height="10.46" fill="#2CA02C" stroke="#258a25" stroke-width="0.4"/>
<rect x="249.11" y="332.21" width="7.58" height="10.46" fill="#2CA02C" stroke="#258a25" stroke-width="0.4"/>
<rect x="256.99" y="332.21" width="7.58" height="10.46" fill="#2CA02C" stroke="#258a25" stroke-width="0.4"/>
<rect x="264.87" y="332.21" width="7.58" height="10.46" fill="#2CA02C" stroke="#258a25" stroke-width="0.4"/>
<rect x="272.75" y="332.21" width="7.58" height="10.46" fill="#2CA02C" stroke="#258a25" stroke-width="0.4"/>
<rect x="288.51" y="332.21" width="7.58" height="10.46" fill="#2CA02C" stroke="#258a25" stroke-width="0.4"/>
<rect x="325.75" y="332.21" width="7.58" height="10.46" fill="#2CA02C" stroke="#258a25" stroke-width="0.4"/>
<rect x="341.51" y="332.21" width="7.58" height="10.46" fill="#2CA02C" stroke="#258a25" stroke-width="0.4"/>
<rect x="380.91" y="332.21" width="7.58" height="10.46" fill="#2CA02C" stroke="#258a25" stroke-width="0.4"/>
<rect x="396.67" y="332.21" width="7.58" height="10.46" fill="#2CA02C" stroke="#258a25" stroke-width="0.4"/>
<rect x="420.31" y="332.21" width="7.58" height="10.46" fill="#2CA02C" stroke="#258a25" stroke-width="0.4"/>
<rect x="428.19" y="332.21" width="7.58" height="10.46" fill="#2CA02C" stroke="#258a25" stroke-width="0.4"/>
<rect x="473.31" y="332.21" width="7.58" height="10.46" fill="#2CA02C" stroke="#258a25" stroke-width="0.4"/>
<rect x="496.95" y="332.21" width="7.58" height="10.46" fill="#2CA02C" stroke="#258a25" stroke-width="0.4"/>
<rect x="504.83" y="332.21" width="7.58" height="10.46" fill="#2CA02C" stroke="#258a25" stroke-width="0.4"/>
<rect x="103.71" y="342.97" width="7.58" height="10.46" fill="#2CA02C" stroke="#258a25" stroke-width="0.4"/>
<rect x="127.35" y="342.97" width="7.58" height="10.46" fill="#2CA02C" stroke="#258a25" stroke-width="0.4"/>
<rect x="225.47" y="342.97" width="7.58" height="10.46" fill="#2CA02C" stroke="#258a25" stroke-width="0.4"/>
<rect x="264.87" y="342.97" width="7.58" height="10.46" fill="#2CA02C" stroke="#258a25" stroke-width="0.4"/>
<rect x="312.15" y="342.97" width="7.58" height="10.46" fill="#2CA02C" stroke="#258a25" stroke-width="0.4"/>
<rect x="333.63" y="342.97" width="7.58" height="10.46" fill="#2CA02C" stroke="#258a25" stroke-width="0.4"/>
<rect x="357.27" y="342.97" width="7.58" height="10.46" fill="#2CA02C" stroke="#258a25" stroke-width="0.4"/>
<rect x="365.15" y="342.97" width="7.58" height="10.46" fill="#2CA02C" stroke="#258a25" stroke-width="0.4"/>
<rect x="373.03" y="342.97" width="7.58" height="10.46" fill="#2CA02C" stroke="#258a25" stroke-width="0.4"/>
<rect x="380.91" y="342.97" width="7.58" height="10.46" fill="#2CA02C" stroke="#258a25" stroke-width="0.4"/>
<rect x="443.95" y="342.97" width="7.58" height="10.46" fill="#2CA02C" stroke="#258a25" stroke-width="0.4"/>
<rect x="459.71" y="342.97" width="7.58" height="10.46" fill="#2CA02C" stroke="#258a25" stroke-width="0.4"/>
<rect x="489.07" y="342.97" width="7.58" height="10.46" fill="#2CA02C" stroke="#258a25" stroke-width="0.4"/>
<rect x="496.95" y="342.97" width="7.58" height="10.46" fill="#2CA02C" stroke="#258a25" stroke-width="0.4"/>
<rect x="225.47" y="353.73" width="7.58" height="10.46" fill="#2CA02C" stroke="#258a25" stroke-width="0.4"/>
<rect x="333.63" y="353.73" width="7.58" height="10.46" fill="#2CA02C" stroke="#258a25" stroke-width="0.4"/>
<rect x="504.83" y="353.73" width="7.58" height="10.46" fill="#2CA02C" stroke="#258a25" stroke-width="0.4"/>
<rect x="58.59" y="364.49" width="7.58" height="10.46" fill="#2CA02C" stroke="#258a25" stroke-width="0.4"/>
<rect x="172.47" y="364.49" width="7.58" height="10.46" fill="#2CA02C" stroke="#258a25" stroke-width="0.4"/>
<rect x="196.11" y="364.49" width="7.58" height="10.46" fill="#2CA02C" stroke="#258a25" stroke-width="0.4"/>
<rect x="312.15" y="364.49" width="7.58" height="10.46" fill="#2CA02C" stroke="#258a25" stroke-width="0.4"/>
<rect x="333.63" y="364.49" width="7.58" height="10.46" fill="#2CA02C" stroke="#258a25" stroke-width="0.4"/>
<rect x="373.03" y="364.49" width="7.58" height="10.46" fill="#2CA02C" stroke="#258a25" stroke-width="0.4"/>
<rect x="388.79" y="364.49" width="7.58" height="10.46" fill="#2CA02C" stroke="#258a25" stroke-width="0.4"/>
<rect x="443.95" y="364.49" width="7.58" height="10.46" fill="#2CA02C" stroke="#258a25" stroke-width="0.4"/>
<rect x="473.31" y="364.49" width="7.58" height="10.46" fill="#2CA02C" stroke="#258a25" stroke-width="0.4"/>
<rect x="496.95" y="364.49" width="7.58" height="10.46" fill="#2CA02C" stroke="#258a25" stroke-width="0.4"/>
<rect x="504.83" y="364.49" width="7.58" height="10.46" fill="#2CA02C" stroke="#258a25" stroke-width="0.4"/>
<rect x="74.35" y="375.25" width="7.58" height="10.46" fill="#2CA02C" stroke="#258a25" stroke-width="0.4"/>
<rect x="127.35" y="375.25" width="7.58" height="10.46" fill="#2CA02C" stroke="#258a25" stroke-width="0.4"/>
<rect x="188.23" y="375.25" width="7.58" height="10.46" fill="#2CA02C" stroke="#258a25" stroke-width="0.4"/>
<rect x="233.35" y="375.25" width="7.58" height="10.46" fill="#2CA02C" stroke="#258a25" stroke-width="0.4"/>
<rect x="256.99" y="375.25" width="7.58" height="10.46" fill="#2CA02C" stroke="#258a25" stroke-width="0.4"/>
<rect x="304.27" y="375.25" width="7.58" height="10.46" fill="#2CA02C" stroke="#258a25" stroke-width="0.4"/>
<rect x="349.39" y="375.25" width="7.58" height="10.46" fill="#2CA02C" stroke="#258a25" stroke-width="0.4"/>
<rect x="357.27" y="375.25" width="7.58" height="10.46" fill="#2CA02C" stroke="#258a25" stroke-width="0.4"/>
<rect x="365.15" y="375.25" width="7.58" height="10.46" fill="#2CA02C" stroke="#258a25" stroke-width="0.4"/>
<rect x="428.19" y="375.25" width="7.58" height="10.46" fill="#2CA02C" stroke="#258a25" stroke-width="0.4"/>
<rect x="436.07" y="375.25" width="7.58" height="10.46" fill="#2CA02C" stroke="#258a25" stroke-width="0.4"/>
<rect x="443.95" y="375.25" width="7.58" height="10.46" fill="#2CA02C" stroke="#258a25" stroke-width="0.4"/>
<rect x="451.83" y="375.25" width="7.58" height="10.46" fill="#2CA02C" stroke="#258a25" stroke-width="0.4"/>
<rect x="481.19" y="375.25" width="7.58" height="10.46" fill="#2CA02C" stroke="#258a25" stroke-width="0.4"/>
<rect x="21.35" y="386.01" width="7.58" height="10.46" fill="#2CA02C" stroke="#258a25" stroke-width="0.4"/>
<rect x="34.95" y="386.01" width="7.58" height="10.46" fill="#2CA02C" stroke="#258a25" stroke-width="0.4"/>
<rect x="66.47" y="386.01" width="7.58" height="10.46" fill="#2CA02C" stroke="#258a25" stroke-width="0.4"/>
<rect x="74.35" y="386.01" width="7.58" height="10.46" fill="#2CA02C" stroke="#258a25" stroke-width="0.4"/>
<rect x="87.95" y="386.01" width="7.58" height="10.46" fill="#2CA02C" stroke="#258a25" stroke-width="0.4"/>
<rect x="111.59" y="386.01" width="7.58" height="10.46" fill="#2CA02C" stroke="#258a25" stroke-width="0.4"/>
<rect x="119.47" y="386.01" width="7.58" height="10.46" fill="#2CA02C" stroke="#258a25" stroke-width="0.4"/>
<rect x="148.83" y="386.01" width="7.58" height="10.46" fill="#2CA02C" stroke="#258a25" stroke-width="0.4"/>
<rect x="156.71" y="386.01" width="7.58" height="10.46" fill="#2CA02C" stroke="#258a25" stroke-width="0.4"/>
<rect x="164.59" y="386.01" width="7.58" height="10.46" fill="#2CA02C" stroke="#258a25" stroke-width="0.4"/>
<rect x="217.59" y="386.01" width="7.58" height="10.46" fill="#2CA02C" stroke="#258a25" stroke-width="0.4"/>
<rect x="241.23" y="386.01" width="7.58" height="10.46" fill="#2CA02C" stroke="#258a25" stroke-width="0.4"/>
<rect x="249.11" y="386.01" width="7.58" height="10.46" fill="#2CA02C" stroke="#258a25" stroke-width="0.4"/>
<rect x="272.75" y="386.01" width="7.58" height="10.46" fill="#2CA02C" stroke="#258a25" stroke-width="0.4"/>
<rect x="280.63" y="386.01" width="7.58" height="10.46" fill="#2CA02C" stroke="#258a25" stroke-width="0.4"/>
<rect x="288.51" y="386.01" width="7.58" height="10.46" fill="#2CA02C" stroke="#258a25" stroke-width="0.4"/>
<rect x="296.39" y="386.01" width="7.58" height="10.46" fill="#2CA02C" stroke="#258a25" stroke-width="0.4"/>
<rect x="304.27" y="386.01" width="7.58" height="10.46" fill="#2CA02C" stroke="#258a25" stroke-width="0.4"/>
<rect x="325.75" y="386.01" width="7.58" height="10.46" fill="#2CA02C" stroke="#258a25" stroke-width="0.4"/>
<rect x="341.51" y="386.01" width="7.58" height="10.46" fill="#2CA02C" stroke="#258a25" stroke-width="0.4"/>
<rect x="349.39" y="386.01" width="7.58" height="10.46" fill="#2CA02C" stroke="#258a25" stroke-width="0.4"/>
<rect x="396.67" y="386.01" width="7.58" height="10.46" fill="#2CA02C" stroke="#258a25" stroke-width="0.4"/>
<rect x="404.55" y="386.01" width="7.58" height="10.46" fill="#2CA02C" stroke="#258a25" stroke-width="0.4"/>
<rect x="412.43" y="386.01" width="7.58" height="10.46" fill="#2CA02C" stroke="#258a25" stroke-width="0.4"/>
<rect x="420.31" y="386.01" width="7.58" height="10.46" fill="#2CA02C" stroke="#258a25" stroke-width="0.4"/>
<rect x="428.19" y="386.01" width="7.58" height="10.46" fill="#2CA02C" stroke="#258a25" stroke-width="0.4"/>
<rect x="436.07" y="386.01" width="7.58" height="10.46" fill="#2CA02C" stroke="#258a25" stroke-width="0.4"/>
<rect x="451.83" y="386.01" width="7.58" height="10.46" fill="#2CA02C" stroke="#258a25" stroke-width="0.4"/>
<rect x="496.95" y="386.01" width="7.58" height="10.46" fill="#2CA02C" stroke="#258a25" stroke-width="0.4"/>
<text x="0" y="0" font-size="10.0" text-anchor="middle" fill="#1a1a1a" transform="translate(14.50 358.96) rotate(-90)">Intercellular</text>
<rect x="21.20" y="400.02" width="7.88" height="64.56" fill="#ffffff"/>
<rect x="34.80" y="400.02" width="47.28" height="64.56" fill="#ffffff"/>
<rect x="87.80" y="400.02" width="47.28" height="64.56" fill="#ffffff"/>
<rect x="140.80" y="400.02" width="63.04" height="64.56" fill="#ffffff"/>
<rect x="209.56" y="400.02" width="110.32" height="64.56" fill="#ffffff"/>
<rect x="325.60" y="400.02" width="141.84" height="64.56" fill="#ffffff"/>
<rect x="473.16" y="400.02" width="39.40" height="64.56" fill="#ffffff"/>
<line x1="21.20" y1="400.02" x2="21.20" y2="464.58" stroke="#ebebeb" stroke-width="0.6"/>
<line x1="29.08" y1="400.02" x2="29.08" y2="464.58" stroke="#ebebeb" stroke-width="0.6"/>
<line x1="21.20" y1="400.02" x2="29.08" y2="400.02" stroke="#ebebeb" stroke-width="0.6"/>
<line x1="21.20" y1="410.78" x2="29.08" y2="410.78" stroke="#ebebeb" stroke-width="0.6"/>
<line x1="21.20" y1="421.54" x2="29.08" y2="421.54" stroke="#ebebeb" stroke-width="0.6"/>
<line x1="21.20" y1="432.30" x2="29.08" y2="432.30" stroke="#ebebeb" stroke-width="0.6"/>
<line x1="21.20" y1="443.06" x2="29.08" y2="443.06" stroke="#ebebeb" stroke-width="0.6"/>
<line x1="21.20" y1="453.82" x2="29.08" y2="453.82" stroke="#ebebeb" stroke-width="0.6"/>
<line x1="21.20" y1="464.58" x2="29.08" y2="464.58" stroke="#ebebeb" stroke-width="0.6"/>
<line x1="34.80" y1="400.02" x2="34.80" y2="464.58" stroke="#ebebeb" stroke-width="0.6"/>
<line x1="42.68" y1="400.02" x2="42.68" y2="464.58" stroke="#ebebeb" stroke-width="0.6"/>
<line x1="50.56" y1="400.02" x2="50.56" y2="464.58" stroke="#ebebeb" stroke-width="0.6"/>
<line x1="58.44" y1="400.02" x2="58.44" y2="464.58" stroke="#ebebeb" stroke-width="0.6"/>
<line x1="66.32" y1="400.02" x2="66.32" y2="464.58" stroke="#ebebeb" stroke-width="0.6"/>
<line x1="74.20" y1="400.02" x2="74.20" y2="464.58" stroke="#ebebeb" stroke-width="0.6"/>
<line x1="82.08" y1="400.02" x2="82.08" y2="464.58" stroke="#ebebeb" stroke-width="0.6"/>
<line x1="34.80" y1="400.02" x2="82.08" y2="400.02" stroke="#ebebeb" stroke-width="0.6"/>
<line x1="34.80" y1="410.78" x2="82.08" y2="410.78" stroke="#ebebeb" stroke-width="0.6"/>
<line x1="34.80" y1="421.54" x2="82.08" y2="421.54" stroke="#ebebeb" stroke-width="0.6"/>
<line x1="34.80" y1="432.30" x2="82.08" y2="432.30" stroke="#ebebeb" stroke-width="0.6"/>
<line x1="34.80" y1="443.06" x2="82.08" y2="443.06" stroke="#ebebeb" stroke-width="0.6"/>
<line x1="34.80" y1="453.82" x2="82.08" y2="453.82" stroke="#ebebeb" stroke-width="0.6"/>
<line x1="34.80" y1="464.58" x2="82.08" y2="464.58" stroke="#ebebeb" stroke-width="0.6"/>
<line x1="87.80" y1="400.02" x2="87.80" y2="464.58" stroke="#ebebeb" stroke-width="0.6"/>
<line x1="95.68" y1="400.02" x2="95.68" y2="464.58" stroke="#ebebeb" stroke-width="0.6"/>
<line x1="103.56" y1="400.02" x2="103.56" y2="464.58" stroke="#ebebeb" stroke-width="0.6"/>
<line x1="111.44" y1="400.02" x2="111.44" y2="464.58" stroke="#ebebeb" stroke-width="0.6"/>
<line x1="119.32" y1="400.02" x2="119.32" y2="464.58" stroke="#ebebeb" stroke-width="0.6"/>
<line x1="127.20" y1="400.02" x2="127.20" y2="464.58" stroke="#ebebeb" stroke-width="0.6"/>
<line x1="135.08" y1="400.02" x2="135.08" y2="464.58" stroke="#ebebeb" stroke-width="0.6"/>
<line x1="87.80" y1="400.02" x2="135.08" y2="400.02" stroke="#ebebeb" stroke-width="0.6"/>
<line x1="87.80" y1="410.78" x2="135.08" y2="410.78" stroke="#ebebeb" stroke-width="0.6"/>
<line x1="87.80" y1="421.54" x2="135.08" y2="421.54" stroke="#ebebeb" stroke-width="0.6"/>
<line x1="87.80" y1="432.30" x2="135.08" y2="432.30" stroke="#ebebeb" stroke-width="0.6"/>
<line x1="87.80" y1="443.06" x2="135.08" y2="443.06" stroke="#ebebeb" stroke-width="0.6"/>
<line x1="87.80" y1="453.82" x2="135.08" y2="453.82" stroke="#ebebeb" stroke-width="0.6"/>
<line x1="87.80" y1="464.58" x2="135.08" y2="464.58" stroke="#ebebeb" stroke-width="0.6"/>
<line x1="140.80" y1="400.02" x2="140.80" y2="464.58" stroke="#ebebeb" stroke-width="0.6"/>
<line x1="148.68" y1="400.02" x2="148.68" y2="464.58" stroke="#ebebeb" stroke-width="0.6"/>
<line x1="156.56" y1="400.02" x2="156.56" y2="464.58" stroke="#ebebeb" stroke-width="0.6"/>
<line x1="164.44" y1="400.02" x2="164.44" y2="464.58" stroke="#ebebeb" stroke-width="0.6"/>
<line x1="172.32" y1="400.02" x2="172.32" y2="464.58" stroke="#ebebeb" stroke-width="0.6"/>
<line x1="180.20" y1="400.02" x2="180.20" y2="464.58" stroke="#ebebeb" stroke-width="0.6"/>
<line x1="188.08" y1="400.02" x2="188.08" y2="464.58" stroke="#ebebeb" stroke-width="0.6"/>
<line x1="195.96" y1="400.02" x2="195.96" y2="464.58" stroke="#ebebeb" stroke-width="0.6"/>
<line x1="203.84" y1="400.02" x2="203.84" y2="464.58" stroke="#ebebeb" stroke-width="0.6"/>
<line x1="140.80" y1="400.02" x2="203.84" y2="400.02" stroke="#ebebeb" stroke-width="0.6"/>
<line x1="140.80" y1="410.78" x2="203.84" y2="410.78" stroke="#ebebeb" stroke-width="0.6"/>
<line x1="140.80" y1="421.54" x2="203.84" y2="421.54" stroke="#ebebeb" stroke-width="0.6"/>
<line x1="140.80" y1="432.30" x2="203.84" y2="432.30" stroke="#ebebeb" stroke-width="0.6"/>
<line x1="140.80" y1="443.06" x2="203.84" y2="443.06" stroke="#ebebeb" stroke-width="0.6"/>
<line x1="140.80" y1="453.82" x2="203.84" y2="453.82" stroke="#ebebeb" stroke-width="0.6"/>
<line x1="140.80" y1="464.58" x2="203.84" y2="464.58" stroke="#ebebeb" stroke-width="0.6"/>
<line x1="209.56" y1="400.02" x2="209.56" y2="464.58" stroke="#ebebeb" stroke-width="0.6"/>
<line x1="217.44" y1="400.02" x2="217.44" y2="464.58" stroke="#ebebeb" stroke-width="0.6"/>
<line x1="225.32" y1="400.02" x2="225.32" y2="464.58" stroke="#ebebeb" stroke-width="0.6"/>
<line x1="233.20" y1="400.02" x2="233.20" y2="464.58" stroke="#ebebeb" stroke-width="0.6"/>
<line x1="241.08" y1="400.02" x2="241.08" y2="464.58" stroke="#ebebeb" stroke-width="0.6"/>
<line x1="248.96" y1="400.02" x2="248.96" y2="464.58" stroke="#ebebeb" stroke-width="0.6"/>
<line x1="256.84" y1="400.02" x2="256.84" y2="464.58" stroke="#ebebeb" stroke-width="0.6"/>
<line x1="264.72" y1="400.02" x2="264.72" y2="464.58" stroke="#ebebeb" stroke-width="0.6"/>
<line x1="272.60" y1="400.02" x2="272.60" y2="464.58" stroke="#ebebeb" stroke-width="0.6"/>
<line x1="280.48" y1="400.02" x2="280.48" y2="464.58" stroke="#ebebeb" stroke-width="0.6"/>
<line x1="288.36" y1="400.02" x2="288.36" y2="464.58" stroke="#ebebeb" stroke-width="0.6"/>
<line x1="296.24" y1="400.02" x2="296.24" y2="464.58" stroke="#ebebeb" stroke-width="0.6"/>
<line x1="304.12" y1="400.02" x2="304.12" y2="464.58" stroke="#ebebeb" stroke-width="0.6"/>
<line x1="312.00" y1="400.02" x2="312.00" y2="464.58" stroke="#ebebeb" stroke-width="0.6"/>
<line x1="319.88" y1="400.02" x2="319.88" y2="464.58" stroke="#ebebeb" stroke-width="0.6"/>
<line x1="209.56" y1="400.02" x2="319.88" y2="400.02" stroke="#ebebeb" stroke-width="0.6"/>
<line x1="209.56" y1="410.78" x2="319.88" y2="410.78" stroke="#ebebeb" stroke-width="0.6"/>
<line x1="209.56" y1="421.54" x2="319.88" y2="421.54" stroke="#ebebeb" stroke-width="0.6"/>
<line x1="209.56" y1="432.30" x2="319.88" y2="432.30" stroke="#ebebeb" stroke-width="0.6"/>
<line x1="209.56" y1="443.06" x2="319.88" y2="443.06" stroke="#ebebeb" stroke-width="0.6"/>
<line x1="209.56" y1="453.82" x2="319.88" y2="453.82" stroke="#ebebeb" stroke-width="0.6"/>
<line x1="209.56" y1="464.58" x2="319.88" y2="464.58" stroke="#ebebeb" stroke-width="0.6"/>
<line x1="325.60" y1="400.02" x2="325.60" y2="464.58" stroke="#ebebeb" stroke-width="0.6"/>
<line x1="333.48" y1="400.02" x2="333.48" y2="464.58" stroke="#ebebeb" stroke-width="0.6"/>
<line x1="341.36" y1="400.02" x2="341.36" y2="464.58" stroke="#ebebeb" stroke-width="0.6"/>
<line x1="349.24" y1="400.02" x2="349.24" y2="464.58" stroke="#ebebeb" stroke-width="0.6"/>
<line x1="357.12" y1="400.02" x2="357.12" y2="464.58" stroke="#ebebeb" stroke-width="0.6"/>
<line x1="365.00" y1="400.02" x2="365.00" y2="464.58" stroke="#ebebeb" stroke-width="0.6"/>
<line x1="372.88" y1="400.02" x2="372.88" y2="464.58" stroke="#ebebeb" stroke-width="0.6"/>
<line x1="380.76" y1="400.02" x2="380.76" y2="464.58" stroke="#ebebeb" stroke-width="0.6"/>
<line x1="388.64" y1="400.02" x2="388.64" y2="464.58" stroke="#ebebeb" stroke-width="0.6"/>
<line x1="396.52" y1="400.02" x2="396.52" y2="464.58" stroke="#ebebeb" stroke-width="0.6"/>
<line x1="404.40" y1="400.02" x2="404.40" y2="464.58" stroke="#ebebeb" stroke-width="0.6"/>
<line x1="412.28" y1="400.02" x2="412.28" y2="464.58" stroke="#ebebeb" stroke-width="0.6"/>
<line x1="420.16" y1="400.02" x2="420.16" y2="464.58" stroke="#ebebeb" stroke-width="0.6"/>
<line x1="428.04" y1="400.02" x2="428.04" y2="464.58" stroke="#ebebeb" stroke-width="0.6"/>
<line x1="435.92" y1="400.02" x2="435.92" y2="464.58" stroke="#ebebeb" stroke-width="0.6"/>
<line x1="443.80" y1="400.02" x2="443.80" y2="464.58" stroke="#ebebeb" stroke-width="0.6"/>
<line x1="451.68" y1="400.02" x2="451.68" y2="464.58" stroke="#ebebeb" stroke-width="0.6"/>
<line x1="459.56" y1="400.02" x2="459.56" y2="464.58" stroke="#ebebeb" stroke-width="0.6"/>
<line x1="467.44" y1="400.02" x2="467.44" y2="464.58" stroke="#ebebeb" stroke-width="0.6"/>
<line x1="325.60" y1="400.02" x2="467.44" y2="400.02" stroke="#ebebeb" stroke-width="0.6"/>
<line x1="325.60" y1="410.78" x2="467.44" y2="410.78" stroke="#ebebeb" stroke-width="0.6"/>
<line x1="325.60" y1="421.54" x2="467.44" y2="421.54" stroke="#ebebeb" stroke-width="0.6"/>
<line x1="325.60" y1="432.30" x2="467.44" y2="432.30" stroke="#ebebeb" stroke-width="0.6"/>
<line x1="325.60" y1="443.06" x2="467.44" y2="443.06" stroke="#ebebeb" stroke-width="0.6"/>
<line x1="325.60" y1="453.82" x2="467.44" y2="453.82" stroke="#ebebeb" stroke-width="0.6"/>
<line x1="325.60" y1="464.58" x2="467.44" y2="464.58" stroke="#ebebeb" stroke-width="0.6"/>
<line x1="473.16" y1="400.02" x2="473.16" y2="464.58" stroke="#ebebeb" stroke-width="0.6"/>
<line x1="481.04" y1="400.02" x2="481.04" y2="464.58" stroke="#ebebeb" stroke-width="0.6"/>
<line x1="488.92" y1="400.02" x2="488.92" y2="464.58" stroke="#ebebeb" stroke-width="0.6"/>
<line x1="496.80" y1="400.02" x2="496.80" y2="464.58" stroke="#ebebeb" stroke-width="0.6"/>
<line x1="504.68" y1="400.02" x2="504.68" y2="464.58" stroke="#ebebeb" stroke-width="0.6"/>
<line x1="512.56" y1="400.02" x2="512.56" y2="464.58" stroke="#ebebeb" stroke-width="0.6"/>
<line x1="473.16" y1="400.02" x2="512.56" y2="400.02" stroke="#ebebeb" stroke-width="0.6"/>
<line x1="473.16" y1="410.78" x2="512.56" y2="410.78" stroke="#ebebeb" stroke-width="0.6"/>
<line x1="473.16" y1="421.54" x2="512.56" y2="421.54" stroke="#ebebeb" stroke-width="0.6"/>
<line x1="473.16" y1="432.30" x2="512.56" y2="432.30" stroke="#ebebeb" stroke-width="0.6"/>
<line x1="473.16" y1="443.06" x2="512.56" y2="443.06" stroke="#ebebeb" stroke-width="0.6"/>
<line x1="473.16" y1="453.82" x2="512.56" y2="453.82" stroke="#ebebeb" stroke-width="0.6"/>
<line x1="473.16" y1="464.58" x2="512.56" y2="464.58" stroke="#ebebeb" stroke-width="0.6"/>
<rect x="164.59" y="400.17" width="7.58" height="10.46" fill="#2CA02C" stroke="#258a25" stroke-width="0.4"/>
<rect x="180.35" y="400.17" width="7.58" height="10.46" fill="#2CA02C" stroke="#258a25" stroke-width="0.4"/>
<rect x="256.99" y="400.17" width="7.58" height="10.46" fill="#2CA02C" stroke="#258a25" stroke-width="0.4"/>
<rect x="272.75" y="400.17" width="7.58" height="10.46" fill="#2CA02C" stroke="#258a25" stroke-width="0.4"/>
<rect x="111.59" y="410.93" width="7.58" height="10.46" fill="#2CA02C" stroke="#258a25" stroke-width="0.4"/>
<rect x="172.47" y="410.93" width="7.58" height="10.46" fill="#2CA02C" stroke="#258a25" stroke-width="0.4"/>
<rect x="304.27" y="410.93" width="7.58" height="10.46" fill="#2CA02C" stroke="#258a25" stroke-width="0.4"/>
<rect x="349.39" y="410.93" width="7.58" height="10.46" fill="#2CA02C" stroke="#258a25" stroke-width="0.4"/>
<rect x="404.55" y="410.93" width="7.58" height="10.46" fill="#2CA02C" stroke="#258a25" stroke-width="0.4"/>
<rect x="481.19" y="410.93" width="7.58" height="10.46" fill="#2CA02C" stroke="#258a25" stroke-width="0.4"/>
<rect x="66.47" y="421.69" width="7.58" height="10.46" fill="#2CA02C" stroke="#258a25" stroke-width="0.4"/>
<rect x="103.71" y="421.69" width="7.58" height="10.46" fill="#2CA02C" stroke="#258a25" stroke-width="0.4"/>
<rect x="420.31" y="421.69" width="7.58" height="10.46" fill="#2CA02C" stroke="#258a25" stroke-width="0.4"/>
<rect x="349.39" y="432.45" width="7.58" height="10.46" fill="#2CA02C" stroke="#258a25" stroke-width="0.4"/>
<rect x="489.07" y="432.45" width="7.58" height="10.46" fill="#2CA02C" stroke="#258a25" stroke-width="0.4"/>
<rect x="58.59" y="443.21" width="7.58" height="10.46" fill="#2CA02C" stroke="#258a25" stroke-width="0.4"/>
<rect x="164.59" y="443.21" width="7.58" height="10.46" fill="#2CA02C" stroke="#258a25" stroke-width="0.4"/>
<rect x="180.35" y="443.21" width="7.58" height="10.46" fill="#2CA02C" stroke="#258a25" stroke-width="0.4"/>
<rect x="241.23" y="443.21" width="7.58" height="10.46" fill="#2CA02C" stroke="#258a25" stroke-width="0.4"/>
<rect x="256.99" y="443.21" width="7.58" height="10.46" fill="#2CA02C" stroke="#258a25" stroke-width="0.4"/>
<rect x="272.75" y="443.21" width="7.58" height="10.46" fill="#2CA02C" stroke="#258a25" stroke-width="0.4"/>
<rect x="304.27" y="443.21" width="7.58" height="10.46" fill="#2CA02C" stroke="#258a25" stroke-width="0.4"/>
<rect x="420.31" y="443.21" width="7.58" height="10.46" fill="#2CA02C" stroke="#258a25" stroke-width="0.4"/>
<rect x="473.31" y="443.21" width="7.58" height="10.46" fill="#2CA02C" stroke="#258a25" stroke-width="0.4"/>
<rect x="496.95" y="443.21" width="7.58" height="10.46" fill="#2CA02C" stroke="#258a25" stroke-width="0.4"/>
<rect x="21.35" y="453.97" width="7.58" height="10.46" fill="#2CA02C" stroke="#258a25" stroke-width="0.4"/>
<rect x="58.59" y="453.97" width="7.58" height="10.46" fill="#2CA02C" stroke="#258a25" stroke-width="0.4"/>
<rect x="111.59" y="453.97" width="7.58" height="10.46" fill="#2CA02C" stroke="#258a25" stroke-width="0.4"/>
<rect x="172.47" y="453.97" width="7.58" height="10.46" fill="#2CA02C" stroke="#258a25" stroke-width="0.4"/>
<rect x="180.35" y="453.97" width="7.58" height="10.46" fill="#2CA02C" stroke="#258a25" stroke-width="0.4"/>
<rect x="241.23" y="453.97" width="7.58" height="10.46" fill="#2CA02C" stroke="#258a25" stroke-width="0.4"/>
<rect x="272.75" y="453.97" width="7.58" height="10.46" fill="#2CA02C" stroke="#258a25" stroke-width="0.4"/>
<rect x="280.63" y="453.97" width="7.58" height="10.46" fill="#2CA02C" stroke="#258a25" stroke-width="0.4"/>
<rect x="304.27" y="453.97" width="7.58" height="10.46" fill="#2CA02C" stroke="#258a25" stroke-width="0.4"/>
<rect x="349.39" y="453.97" width="7.58" height="10.46" fill="#2CA02C" stroke="#258a25" stroke-width="0.4"/>
<rect x="404.55" y="453.97" width="7.58" height="10.46" fill="#2CA02C" stroke="#258a25" stroke-width="0.4"/>
<rect x="436.07" y="453.97" width="7.58" height="10.46" fill="#2CA02C" stroke="#258a25" stroke-width="0.4"/>
<rect x="473.31" y="453.97" width="7.58" height="10.46" fill="#2CA02C" stroke="#258a25" stroke-width="0.4"/>
<rect x="489.07" y="453.97" width="7.58" height="10.46" fill="#2CA02C" stroke="#258a25" stroke-width="0.4"/>
<rect x="496.95" y="453.97" width="7.58" height="10.46" fill="#2CA02C" stroke="#258a25" stroke-width="0.4"/>
<text x="0" y="0" font-size="10.0" text-anchor="middle" fill="#1a1a1a" transform="translate(14.50 432.30) rotate(-90)">Intracellular</text>
<rect x="21.20" y="467.98" width="7.88" height="53.80" fill="#ffffff"/>
<rect x="34.80" y="467.98" width="47.28" height="53.80" fill="#ffffff"/>
<rect x="87.80" y="467.98" width="47.28" height="53.80" fill="#ffffff"/>
<rect x="140.80" y="467.98" width="63.04" height="53.80" fill="#ffffff"/>
<rect x="209.56" y="467.98" width="110.32" height="53.80" fill="#ffffff"/>
<rect x="325.60" y="467.98" width="141.84" height="53.80" fill="#ffffff"/>
<rect x="473.16" y="467.98" width="39.40" height="53.80" fill="#ffffff"/>
<line x1="21.20" y1="467.98" x2="21.20" y2="521.78" stroke="#ebebeb" stroke-width="0.6"/>
<line x1="29.08" y1="467.98" x2="29.08" y2="521.78" stroke="#ebebeb" stroke-width="0.6"/>
<line x1="21.20" y1="467.98" x2="29.08" y2="467.98" stroke="#ebebeb" stroke-width="0.6"/>
<line x1="21.20" y1="478.74" x2="29.08" y2="478.74" stroke="#ebebeb" stroke-width="0.6"/>
<line x1="21.20" y1="489.50" x2="29.08" y2="489.50" stroke="#ebebeb" stroke-width="0.6"/>
<line x1="21.20" y1="500.26" x2="29.08" y2="500.26" stroke="#ebebeb" stroke-width="0.6"/>
<line x1="21.20" y1="511.02" x2="29.08" y2="511.02" stroke="#ebebeb" stroke-width="0.6"/>
<line x1="21.20" y1="521.78" x2="29.08" y2="521.78" stroke="#ebebeb" stroke-width="0.6"/>
<line x1="34.80" y1="467.98" x2="34.80" y2="521.78" stroke="#ebebeb" stroke-width="0.6"/>
<line x1="42.68" y1="467.98" x2="42.68" y2="521.78" stroke="#ebebeb" stroke-width="0.6"/>
<line x1="50.56" y1="467.98" x2="50.56" y2="521.78" stroke="#ebebeb" stroke-width="0.6"/>
<line x1="58.44" y1="467.98" x2="58.44" y2="521.78" stroke="#ebebeb" stroke-width="0.6"/>
<line x1="66.32" y1="467.98" x2="66.32" y2="521.78" stroke="#ebebeb" stroke-width="0.6"/>
<line x1="74.20" y1="467.98" x2="74.20" y2="521.78" stroke="#ebebeb" stroke-width="0.6"/>
<line x1="82.08" y1="467.98" x2="82.08" y2="521.78" stroke="#ebebeb" stroke-width="0.6"/>
<line x1="34.80" y1="467.98" x2="82.08" y2="467.98" stroke="#ebebeb" stroke-width="0.6"/>
<line x1="34.80" y1="478.74" x2="82.08" y2="478.74" stroke="#ebebeb" stroke-width="0.6"/>
<line x1="34.80" y1="489.50" x2="82.08" y2="489.50" stroke="#ebebeb" stroke-width="0.6"/>
<line x1="34.80" y1="500.26" x2="82.08" y2="500.26" stroke="#ebebeb" stroke-width="0.6"/>
<line x1="34.80" y1="511.02" x2="82.08" y2="511.02" stroke="#ebebeb" stroke-width="0.6"/>
<line x1="34.80" y1="521.78" x2="82.08" y2="521.78" stroke="#ebebeb" stroke-width="0.6"/>
<line x1="87.80" y1="467.98" x2="87.80" y2="521.78" stroke="#ebebeb" stroke-width="0.6"/>
<line x1="95.68" y1="467.98" x2="95.68" y2="521.78" stroke="#ebebeb" stroke-width="0.6"/>
<line x1="103.56" y1="467.98" x2="103.56" y2="521.78" stroke="#ebebeb" stroke-width="0.6"/>
<line x1="111.44" y1="467.98" x2="111.44" y2="521.78" stroke="#ebebeb" stroke-width="0.6"/>
<line x1="119.32" y1="467.98" x2="119.32" y2="521.78" stroke="#ebebeb" stroke-width="0.6"/>
<line x1="127.20" y1="467.98" x2="127.20" y2="521.78" stroke="#ebebeb" stroke-width="0.6"/>
<line x1="135.08" y1="467.98" x2="135.08" y2="521.78" stroke="#ebebeb" stroke-width="0.6"/>
<line x1="87.80" y1="467.98" x2="135.08" y2="467.98" stroke="#ebebeb" stroke-width="0.6"/>
<line x1="87.80" y1="478.74" x2="135.08" y2="478.74" stroke="#ebebeb" stroke-width="0.6"/>
<line x1="87.80" y1="489.50" x2="135.08" y2="489.50" stroke="#ebebeb" stroke-width="0.6"/>
<line x1="87.80" y1="500.26" x2="135.08" y2="500.26" stroke="#ebebeb" stroke-width="0.6"/>
<line x1="87.80" y1="511.02" x2="135.08" y2="511.02" stroke="#ebebeb" stroke-width="0.6"/>
<line x1="87.80" y1="521.78" x2="135.08" y2="521.78" stroke="#ebebeb" stroke-width="0.6"/>
<line x1="140.80" y1="467.98" x2="140.80" y2="521.78" stroke="#ebebeb" stroke-width="0.6"/>
<line x1="148.68" y1="467.98" x2="148.68" y2="521.78" stroke="#ebebeb" stroke-width="0.6"/>
<line x1="156.56" y1="467.98" x2="156.56" y2="521.78" stroke="#ebebeb" stroke-width="0.6"/>
<line x1="164.44" y1="467.98" x2="164.44" y2="521.78" stroke="#ebebeb" stroke-width="0.6"/>
<line x1="172.32" y1="467.98" x2="172.32" y2="521.78" stroke="#ebebeb" stroke-width="0.6"/>
<line x1="180.20" y1="467.98" x2="180.20" y2="521.78" stroke="#ebebeb" stroke-width="0.6"/>
<line x1="188.08" y1="467.98" x2="188.08" y2="521.78" stroke="#ebebeb" stroke-width="0.6"/>
<line x1="195.96" y1="467.98" x2="195.96" y2="521.78" stroke="#ebebeb" stroke-width="0.6"/>
<line x1="203.84" y1="467.98" x2="203.84" y2="521.78" stroke="#ebebeb" stroke-width="0.6"/>
<line x1="140.80" y1="467.98" x2="203.84" y2="467.98" stroke="#ebebeb" stroke-width="0.6"/>
<line x1="140.80" y1="478.74" x2="203.84" y2="478.74" stroke="#ebebeb" stroke-width="0.6"/>
<line x1="140.80" y1="489.50" x2="203.84" y2="489.50" stroke="#ebebeb" stroke-width="0.6"/>
<line x1="140.80" y1="500.26" x2="203.84" y2="500.26" stroke="#ebebeb" stroke-width="0.6"/>
<line x1="140.80" y1="511.02" x2="203.84" y2="511.02" stroke="#ebebeb" stroke-width="0.6"/>
<line x1="140.80" y1="521.78" x2="203.84" y2="521.78" stroke="#ebebeb" stroke-width="0.6"/>
<line x1="209.56" y1="467.98" x2="209.56" y2="521.78" stroke="#ebebeb" stroke-width="0.6"/>
<line x1="217.44" y1="467.98" x2="217.44" y2="521.78" stroke="#ebebeb" stroke-width="0.6"/>
<line x1="225.32" y1="467.98" x2="225.32" y2="521.78" stroke="#ebebeb" stroke-width="0.6"/>
<line x1="233.20" y1="467.98" x2="233.20" y2="521.78" stroke="#ebebeb" stroke-width="0.6"/>
<line x1="241.08" y1="467.98" x2="241.08" y2="521.78" stroke="#ebebeb" stroke-width="0.6"/>
<line x1="248.96" y1="467.98" x2="248.96" y2="521.78" stroke="#ebebeb" stroke-width="0.6"/>
<line x1="256.84" y1="467.98" x2="256.84" y2="521.78" stroke="#ebebeb" stroke-width="0.6"/>
<line x1="264.72" y1="467.98" x2="264.72" y2="521.78" stroke="#ebebeb" stroke-width="0.6"/>
<line x1="272.60" y1="467.98" x2="272.60" y2="521.78" stroke="#ebebeb" stroke-width="0.6"/>
<line x1="280.48" y1="467.98" x2="280.48" y2="521.78" stroke="#ebebeb" stroke-width="0.6"/>
<line x1="288.36" y1="467.98" x2="288.36" y2="521.78" stroke="#ebebeb" stroke-width="0.6"/>
<line x1="296.24" y1="467.98" x2="296.24" y2="521.78" stroke="#ebebeb" stroke-width="0.6"/>
<line x1="304.12" y1="467.98" x2="304.12" y2="521.78" stroke="#ebebeb" stroke-width="0.6"/>
<line x1="312.00" y1="467.98" x2="312.00" y2="521.78" stroke="#ebebeb" stroke-width="0.6"/>
<line x1="319.88" y1="467.98" x2="319.88" y2="521.78" stroke="#ebebeb" stroke-width="0.6"/>
<line x1="209.56" y1="467.98" x2="319.88" y2="467.98" stroke="#ebebeb" stroke-width="0.6"/>
<line x1="209.56" y1="478.74" x2="319.88" y2="478.74" stroke="#ebebeb" stroke-width="0.6"/>
<line x1="209.56" y1="489.50" x2="319.88" y2="489.50" stroke="#ebebeb" stroke-width="0.6"/>
<line x1="209.56" y1="500.26" x2="319.88" y2="500.26" stroke="#ebebeb" stroke-width="0.6"/>
<line x1="209.56" y1="511.02" x2="319.88" y2="511.02" stroke="#ebebeb" stroke-width="0.6"/>
<line x1="209.56" y1="521.78" x2="319.88" y2="521.78" stroke="#ebebeb" stroke-width="0.6"/>
<line x1="325.60" y1="467.98" x2="325.60" y2="521.78" stroke="#ebebeb" stroke-width="0.6"/>
<line x1="333.48" y1="467.98" x2="333.48" y2="521.78" stroke="#ebebeb" stroke-width="0.6"/>
<line x1="341.36" y1="467.98" x2="341.36" y2="521.78" stroke="#ebebeb" stroke-width="0.6"/>
<line x1="349.24" y1="467.98" x2="349.24" y2="521.78" stroke="#ebebeb" stroke-width="0.6"/>
<line x1="357.12" y1="467.98" x2="357.12" y2="521.78" stroke="#ebebeb" stroke-width="0.6"/>
<line x1="365.00" y1="467.98" x2="365.00" y2="521.78" stroke="#ebebeb" stroke-width="0.6"/>
<line x1="372.88" y1="467.98" x2="372.88" y2="521.78" stroke="#ebebeb" stroke-width="0.6"/>
<line x1="380.76" y1="467.98" x2="380.76" y2="521.78" stroke="#ebebeb" stroke-width="0.6"/>
<line x1="388.64" y1="467.98" x2="388.64" y2="521.78" stroke="#ebebeb" stroke-width="0.6"/>
<line x1="396.52" y1="467.98" x2="396.52" y2="521.78" stroke="#ebebeb" stroke-width="0.6"/>
<line x1="404.40" y1="467.98" x2="404.40" y2="521.78" stroke="#ebebeb" stroke-width="0.6"/>
<line x1="412.28" y1="467.98" x2="412.28" y2="521.78" stroke="#ebebeb" stroke-width="0.6"/>
<line x1="420.16" y1="467.98" x2="420.16" y2="521.78" stroke="#ebebeb" stroke-width="0.6"/>
<line x1="428.04" y1="467.98" x2="428.04" y2="521.78" stroke="#ebebeb" stroke-width="0.6"/>
<line x1="435.92" y1="467.98" x2="435.92" y2="521.78" stroke="#ebebeb" stroke-width="0.6"/>
<line x1="443.80" y1="467.98" x2="443.80" y2="521.78" stroke="#ebebeb" stroke-width="0.6"/>
<line x1="451.68" y1="467.98" x2="451.68" y2="521.78" stroke="#ebebeb" stroke-width="0.6"/>
<line x1="459.56" y1="467.98" x2="459.56" y2="521.78" stroke="#ebebeb" stroke-width="0.6"/>
<line x1="467.44" y1="467.98" x2="467.44" y2="521.78" stroke="#ebebeb" stroke-width="0.6"/>
<line x1="325.60" y1="467.98" x2="467.44" y2="467.98" stroke="#ebebeb" stroke-width="0.6"/>
<line x1="325.60" y1="478.74" x2="467.44" y2="478.74" stroke="#ebebeb" stroke-width="0.6"/>
<line x1="325.60" y1="489.50" x2="467.44" y2="489.50" stroke="#ebebeb" stroke-width="0.6"/>
<line x1="325.60" y1="500.26" x2="467.44" y2="500.26" stroke="#ebebeb" stroke-width="0.6"/>
<line x1="325.60" y1="511.02" x2="467.44" y2="511.02" stroke="#ebebeb" stroke-width="0.6"/>
<line x1="325.60" y1="521.78" x2="467.44" y2="521.78" stroke="#ebebeb" stroke-width="0.6"/>
<line x1="473.16" y1="467.98" x2="473.16" y2="521.78" stroke="#ebebeb" stroke-width="0.6"/>
<line x1="481.04" y1="467.98" x2="481.04" y2="521.78" stroke="#ebebeb" stroke-width="0.6"/>
<line x1="488.92" y1="467.98" x2="488.92" y2="521.78" stroke="#ebebeb" stroke-width="0.6"/>
<line x1="496.80" y1="467.98" x2="496.80" y2="521.78" stroke="#ebebeb" stroke-width="0.6"/>
<line x1="504.68" y1="467.98" x2="504.68" y2="521.78" stroke="#ebebeb" stroke-width="0.6"/>
<line x1="512.56" y1="467.98" x2="512.56" y2="521.78" stroke="#ebebeb" stroke-width="0.6"/>
<line x1="473.16" y1="467.98" x2="512.56" y2="467.98" stroke="#ebebeb" stroke-width="0.6"/>
<line x1="473.16" y1="478.74" x2="512.56" y2="478.74" stroke="#ebebeb" stroke-width="0.6"/>
<line x1="473.16" y1="489.50" x2="512.56" y2="489.50" stroke="#ebebeb" stroke-width="0.6"/>
<line x1="473.16" y1="500.26" x2="512.56" y2="500.26" stroke="#ebebeb" stroke-width="0.6"/>
<line x1="473.16" y1="511.02" x2="512.56" y2="511.02" stroke="#ebebeb" stroke-width="0.6"/>
<line x1="473.16" y1="521.78" x2="512.56" y2="521.78" stroke="#ebebeb" stroke-width="0.6"/>
<rect x="21.35" y="468.13" width="7.58" height="10.46" fill="#2CA02C" stroke="#258a25" stroke-width="0.4"/>
<rect x="87.95" y="468.13" width="7.58" height="10.46" fill="#2CA02C" stroke="#258a25" stroke-width="0.4"/>
<rect x="156.71" y="478.89" width="7.58" height="10.46" fill="#2CA02C" stroke="#258a25" stroke-width="0.4"/>
<rect x="396.67" y="478.89" width="7.58" height="10.46" fill="#2CA02C" stroke="#258a25" stroke-width="0.4"/>
<rect x="451.83" y="478.89" width="7.58" height="10.46" fill="#2CA02C" stroke="#258a25" stroke-width="0.4"/>
<rect x="473.31" y="478.89" width="7.58" height="10.46" fill="#2CA02C" stroke="#258a25" stroke-width="0.4"/>
<rect x="225.47" y="489.65" width="7.58" height="10.46" fill="#2CA02C" stroke="#258a25" stroke-width="0.4"/>
<rect x="496.95" y="489.65" width="7.58" height="10.46" fill="#2CA02C" stroke="#258a25" stroke-width="0.4"/>
<rect x="95.83" y="500.41" width="7.58" height="10.46" fill="#2CA02C" stroke="#258a25" stroke-width="0.4"/>
<rect x="119.47" y="500.41" width="7.58" height="10.46" fill="#2CA02C" stroke="#258a25" stroke-width="0.4"/>
<rect x="164.59" y="500.41" width="7.58" height="10.46" fill="#2CA02C" stroke="#258a25" stroke-width="0.4"/>
<rect x="172.47" y="500.41" width="7.58" height="10.46" fill="#2CA02C" stroke="#258a25" stroke-width="0.4"/>
<rect x="196.11" y="500.41" width="7.58" height="10.46" fill="#2CA02C" stroke="#258a25" stroke-width="0.4"/>
<rect x="241.23" y="500.41" width="7.58" height="10.46" fill="#2CA02C" stroke="#258a25" stroke-width="0.4"/>
<rect x="388.79" y="500.41" width="7.58" height="10.46" fill="#2CA02C" stroke="#258a25" stroke-width="0.4"/>
<rect x="21.35" y="511.17" width="7.58" height="10.46" fill="#2CA02C" stroke="#258a25" stroke-width="0.4"/>
<rect x="34.95" y="511.17" width="7.58" height="10.46" fill="#2CA02C" stroke="#258a25" stroke-width="0.4"/>
<rect x="140.95" y="511.17" width="7.58" height="10.46" fill="#2CA02C" stroke="#258a25" stroke-width="0.4"/>
<rect x="156.71" y="511.17" width="7.58" height="10.46" fill="#2CA02C" stroke="#258a25" stroke-width="0.4"/>
<rect x="164.59" y="511.17" width="7.58" height="10.46" fill="#2CA02C" stroke="#258a25" stroke-width="0.4"/>
<rect x="209.71" y="511.17" width="7.58" height="10.46" fill="#2CA02C" stroke="#258a25" stroke-width="0.4"/>
<rect x="241.23" y="511.17" width="7.58" height="10.46" fill="#2CA02C" stroke="#258a25" stroke-width="0.4"/>
<rect x="272.75" y="511.17" width="7.58" height="10.46" fill="#2CA02C" stroke="#258a25" stroke-width="0.4"/>
<rect x="288.51" y="511.17" width="7.58" height="10.46" fill="#2CA02C" stroke="#258a25" stroke-width="0.4"/>
<rect x="325.75" y="511.17" width="7.58" height="10.46" fill="#2CA02C" stroke="#258a25" stroke-width="0.4"/>
<rect x="388.79" y="511.17" width="7.58" height="10.46" fill="#2CA02C" stroke="#258a25" stroke-width="0.4"/>
<rect x="396.67" y="511.17" width="7.58" height="10.46" fill="#2CA02C" stroke="#258a25" stroke-width="0.4"/>
<rect x="451.83" y="511.17" width="7.58" height="10.46" fill="#2CA02C" stroke="#258a25" stroke-width="0.4"/>
<rect x="473.31" y="511.17" width="7.58" height="10.46" fill="#2CA02C" stroke="#258a25" stroke-width="0.4"/>
<rect x="496.95" y="511.17" width="7.58" height="10.46" fill="#2CA02C" stroke="#258a25" stroke-width="0.4"/>
<text x="0" y="0" font-size="10.0" text-anchor="middle" fill="#1a1a1a" transform="translate(14.50 494.88) rotate(-90)">Differential</text>
<text x="25.14" y="315.50" font-size="10.0" text-anchor="middle" fill="#1a1a1a">2018</text>
<text x="58.44" y="315.50" font-size="10.0" text-anchor="middle" fill="#1a1a1a">2019</text>
<text x="111.44" y="315.50" font-size="10.0" text-anchor="middle" fill="#1a1a1a">2020</text>
<text x="172.32" y="315.50" font-size="10.0" text-anchor="middle" fill="#1a1a1a">2021</text>
<text x="264.72" y="315.50" font-size="10.0" text-anchor="middle" fill="#1a1a1a">2022</text>
<text x="396.52" y="315.50" font-size="10.0" text-anchor="middle" fill="#1a1a1a">2023</text>
<text x="492.86" y="315.50" font-size="10.0" text-anchor="middle" fill="#1a1a1a">2024</text>
<text x="0" y="0" font-size="9.8" text-anchor="end" fill="#1a1a1a" transform="translate(28.64 525.80) rotate(-90)">CellPhoneDB</text>
<text x="0" y="0" font-size="9.8" text-anchor="end" fill="#1a1a1a" transform="translate(42.24 525.80) rotate(-90)">iTALK</text>
<text x="0" y="0" font-size="9.8" text-anchor="end" fill="#1a1a1a" transform="translate(50.12 525.80) rotate(-90)">PyMINEr</text>
<text x="0" y="0" font-size="9.8" text-anchor="end" fill="#1a1a1a" transform="translate(58.00 525.80) rotate(-90)">RNA−Magnet</text>
<text x="0" y="0" font-size="9.8" text-anchor="end" fill="#1a1a1a" transform="translate(65.88 525.80) rotate(-90)">NicheNet</text>
<text x="0" y="0" font-size="9.8" text-anchor="end" fill="#1a1a1a" transform="translate(73.76 525.80) rotate(-90)">SoptSC</text>
<text x="0" y="0" font-size="9.8" text-anchor="end" fill="#1a1a1a" transform="translate(81.64 525.80) rotate(-90)">SVCA</text>
<text x="0" y="0" font-size="9.8" text-anchor="end" fill="#1a1a1a" transform="translate(95.24 525.80) rotate(-90)">CellTalker</text>
<text x="0" y="0" font-size="9.8" text-anchor="end" fill="#1a1a1a" transform="translate(103.12 525.80) rotate(-90)">NATMI</text>
<text x="0" y="0" font-size="9.8" text-anchor="end" fill="#1a1a1a" transform="translate(111.00 525.80) rotate(-90)">SingleCellSignalR</text>
<text x="0" y="0" font-size="9.8" text-anchor="end" fill="#1a1a1a" transform="translate(118.88 525.80) rotate(-90)">scMLnet</text>
<text x="0" y="0" font-size="9.8" text-anchor="end" fill="#1a1a1a" transform="translate(126.76 525.80) rotate(-90)">COMUNET</text>
<text x="0" y="0" font-size="9.8" text-anchor="end" fill="#1a1a1a" transform="translate(134.64 525.80) rotate(-90)">SpaOTsc</text>
<text x="0" y="0" font-size="9.8" text-anchor="end" fill="#1a1a1a" transform="translate(148.24 525.80) rotate(-90)">ICELLNET</text>
<text x="0" y="0" font-size="9.8" text-anchor="end" fill="#1a1a1a" transform="translate(156.12 525.80) rotate(-90)">Cellinker</text>
<text x="0" y="0" font-size="9.8" text-anchor="end" fill="#1a1a1a" transform="translate(164.00 525.80) rotate(-90)">CellChat</text>
<text x="0" y="0" font-size="9.8" text-anchor="end" fill="#1a1a1a" transform="translate(171.88 525.80) rotate(-90)">CytoTalk</text>
<text x="0" y="0" font-size="9.8" text-anchor="end" fill="#1a1a1a" transform="translate(179.76 525.80) rotate(-90)">Domino</text>
<text x="0" y="0" font-size="9.8" text-anchor="end" fill="#1a1a1a" transform="translate(187.64 525.80) rotate(-90)">CellCall</text>
<text x="0" y="0" font-size="9.8" text-anchor="end" fill="#1a1a1a" transform="translate(195.52 525.80) rotate(-90)">Giotto</text>
<text x="0" y="0" font-size="9.8" text-anchor="end" fill="#1a1a1a" transform="translate(203.40 525.80) rotate(-90)">CrossTalkeR</text>
<text x="0" y="0" font-size="9.8" text-anchor="end" fill="#1a1a1a" transform="translate(217.00 525.80) rotate(-90)">Connectome</text>
<text x="0" y="0" font-size="9.8" text-anchor="end" fill="#1a1a1a" transform="translate(224.88 525.80) rotate(-90)">scConnect</text>
<text x="0" y="0" font-size="9.8" text-anchor="end" fill="#1a1a1a" transform="translate(232.76 525.80) rotate(-90)">Tensor−cell2cell</text>
<text x="0" y="0" font-size="9.8" text-anchor="end" fill="#1a1a1a" transform="translate(240.64 525.80) rotate(-90)">cell2cell</text>
<text x="0" y="0" font-size="9.8" text-anchor="end" fill="#1a1a1a" transform="translate(248.52 525.80) rotate(-90)">scSeqComm</text>
<text x="0" y="0" font-size="9.8" text-anchor="end" fill="#1a1a1a" transform="translate(256.40 525.80) rotate(-90)">Squidpy</text>
<text x="0" y="0" font-size="9.8" text-anchor="end" fill="#1a1a1a" transform="translate(264.28 525.80) rotate(-90)">spaTalk</text>
<text x="0" y="0" font-size="9.8" text-anchor="end" fill="#1a1a1a" transform="translate(272.16 525.80) rotate(-90)">TraSig</text>
<text x="0" y="0" font-size="9.8" text-anchor="end" fill="#1a1a1a" transform="translate(280.04 525.80) rotate(-90)">CellCallEXT</text>
<text x="0" y="0" font-size="9.8" text-anchor="end" fill="#1a1a1a" transform="translate(287.92 525.80) rotate(-90)">CommPath</text>
<text x="0" y="0" font-size="9.8" text-anchor="end" fill="#1a1a1a" transform="translate(295.80 525.80) rotate(-90)">scLR</text>
<text x="0" y="0" font-size="9.8" text-anchor="end" fill="#1a1a1a" transform="translate(303.68 525.80) rotate(-90)">InterCellDB</text>
<text x="0" y="0" font-size="9.8" text-anchor="end" fill="#1a1a1a" transform="translate(311.56 525.80) rotate(-90)">CellComm</text>
<text x="0" y="0" font-size="9.8" text-anchor="end" fill="#1a1a1a" transform="translate(319.44 525.80) rotate(-90)">REMI</text>
<text x="0" y="0" font-size="9.8" text-anchor="end" fill="#1a1a1a" transform="translate(333.04 525.80) rotate(-90)">scDiffCom</text>
<text x="0" y="0" font-size="9.8" text-anchor="end" fill="#1a1a1a" transform="translate(340.92 525.80) rotate(-90)">scTensor</text>
<text x="0" y="0" font-size="9.8" text-anchor="end" fill="#1a1a1a" transform="translate(348.80 525.80) rotate(-90)">stLearn</text>
<text x="0" y="0" font-size="9.8" text-anchor="end" fill="#1a1a1a" transform="translate(356.68 525.80) rotate(-90)">stMLnet</text>
<text x="0" y="0" font-size="9.8" text-anchor="end" fill="#1a1a1a" transform="translate(364.56 525.80) rotate(-90)">HoloNet</text>
<text x="0" y="0" font-size="9.8" text-anchor="end" fill="#1a1a1a" transform="translate(372.44 525.80) rotate(-90)">COMMOT</text>
<text x="0" y="0" font-size="9.8" text-anchor="end" fill="#1a1a1a" transform="translate(380.32 525.80) rotate(-90)">GraphComm</text>
<text x="0" y="0" font-size="9.8" text-anchor="end" fill="#1a1a1a" transform="translate(388.20 525.80) rotate(-90)">CSCP</text>
<text x="0" y="0" font-size="9.8" text-anchor="end" fill="#1a1a1a" transform="translate(396.08 525.80) rotate(-90)">MultiNicheNet</text>
<text x="0" y="0" font-size="9.8" text-anchor="end" fill="#1a1a1a" transform="translate(403.96 525.80) rotate(-90)">scTenifoldXct</text>
<text x="0" y="0" font-size="9.8" text-anchor="end" fill="#1a1a1a" transform="translate(411.84 525.80) rotate(-90)">TimeTalk</text>
<text x="0" y="0" font-size="9.8" text-anchor="end" fill="#1a1a1a" transform="translate(419.72 525.80) rotate(-90)">DiSIR</text>
<text x="0" y="0" font-size="9.8" text-anchor="end" fill="#1a1a1a" transform="translate(427.60 525.80) rotate(-90)">exFINDER</text>
<text x="0" y="0" font-size="9.8" text-anchor="end" fill="#1a1a1a" transform="translate(435.48 525.80) rotate(-90)">DeepCOLOR</text>
<text x="0" y="0" font-size="9.8" text-anchor="end" fill="#1a1a1a" transform="translate(443.36 525.80) rotate(-90)">Renoir</text>
<text x="0" y="0" font-size="9.8" text-anchor="end" fill="#1a1a1a" transform="translate(451.24 525.80) rotate(-90)">spaCI</text>
<text x="0" y="0" font-size="9.8" text-anchor="end" fill="#1a1a1a" transform="translate(459.12 525.80) rotate(-90)">SpatialDM</text>
<text x="0" y="0" font-size="9.8" text-anchor="end" fill="#1a1a1a" transform="translate(467.00 525.80) rotate(-90)">DeepCCI</text>
<text x="0" y="0" font-size="9.8" text-anchor="end" fill="#1a1a1a" transform="translate(480.60 525.80) rotate(-90)">scriabin</text>
<text x="0" y="0" font-size="9.8" text-anchor="end" fill="#1a1a1a" transform="translate(488.48 525.80) rotate(-90)">SpaCeNet</text>
<text x="0" y="0" font-size="9.8" text-anchor="end" fill="#1a1a1a" transform="translate(496.36 525.80) rotate(-90)">CellAgentChat</text>
<text x="0" y="0" font-size="9.8" text-anchor="end" fill="#1a1a1a" transform="translate(504.24 525.80) rotate(-90)">LIANA+</text>
<text x="0" y="0" font-size="9.8" text-anchor="end" fill="#1a1a1a" transform="translate(512.12 525.80) rotate(-90)">MDIC3</text>
<rect x="520.40" y="323.68" width="2.43" height="6.20" fill="#000000"/>
<text x="566.70" y="330.78" font-size="10.0" fill="#1a1a1a">Correlation</text>
<rect x="520.40" y="334.44" width="41.24" height="6.20" fill="#000000"/>
<text x="566.70" y="341.54" font-size="10.0" fill="#1a1a1a">Expression</text>
<rect x="520.40" y="345.20" width="16.98" height="6.20" fill="#000000"/>
<text x="566.70" y="352.30" font-size="10.0" fill="#1a1a1a">Machine Learning</text>
<rect x="520.40" y="355.96" width="3.64" height="6.20" fill="#000000"/>
<text x="566.70" y="363.06" font-size="10.0" fill="#1a1a1a">Matrix decomposition</text>
<rect x="520.40" y="366.72" width="13.34" height="6.20" fill="#000000"/>
<text x="566.70" y="373.82" font-size="10.0" fill="#1a1a1a">Network</text>
<rect x="520.40" y="377.48" width="16.98" height="6.20" fill="#000000"/>
<text x="566.70" y="384.58" font-size="10.0" fill="#1a1a1a">Space</text>
<rect x="520.40" y="388.24" width="35.17" height="6.20" fill="#000000"/>
<text x="566.70" y="395.34" font-size="10.0" fill="#1a1a1a">Statistics</text>
<rect x="520.40" y="321.30" width="43.30" height="75.32" fill="none" stroke="#9a9a9a" stroke-width="0.6"/>
<rect x="520.40" y="402.40" width="11.00" height="6.20" fill="#000000"/>
<text x="566.70" y="409.50" font-size="10.0" fill="#1a1a1a">Coexpression</text>
<rect x="520.40" y="413.16" width="16.50" height="6.20" fill="#000000"/>
<text x="566.70" y="420.26" font-size="10.0" fill="#1a1a1a">Correlation</text>
<rect x="520.40" y="423.92" width="8.25" height="6.20" fill="#000000"/>
<text x="566.70" y="431.02" font-size="10.0" fill="#1a1a1a">Expression</text>
<rect x="520.40" y="434.68" width="5.50" height="6.20" fill="#000000"/>
<text x="566.70" y="441.78" font-size="10.0" fill="#1a1a1a">Machine Learning</text>
<rect x="520.40" y="445.44" width="27.49" height="6.20" fill="#000000"/>
<text x="566.70" y="452.54" font-size="10.0" fill="#1a1a1a">Network</text>
<rect x="520.40" y="456.20" width="41.24" height="6.20" fill="#000000"/>
<text x="566.70" y="463.30" font-size="10.0" fill="#1a1a1a">Statistics</text>
<rect x="520.40" y="400.02" width="43.30" height="64.56" fill="none" stroke="#9a9a9a" stroke-width="0.6"/>
<rect x="520.40" y="470.36" width="5.50" height="6.20" fill="#000000"/>
<text x="566.70" y="477.46" font-size="10.0" fill="#1a1a1a">Expression</text>
<rect x="520.40" y="481.12" width="11.00" height="6.20" fill="#000000"/>
<text x="566.70" y="488.22" font-size="10.0" fill="#1a1a1a">Machine Learning</text>
<rect x="520.40" y="491.88" width="5.50" height="6.20" fill="#000000"/>
<text x="566.70" y="498.98" font-size="10.0" fill="#1a1a1a">Matrix decomposition</text>
<rect x="520.40" y="502.64" width="19.24" height="6.20" fill="#000000"/>
<text x="566.70" y="509.74" font-size="10.0" fill="#1a1a1a">Network</text>
<rect x="520.40" y="513.40" width="41.24" height="6.20" fill="#000000"/>
<text x="566.70" y="520.50" font-size="10.0" fill="#1a1a1a">Statistics</text>
<rect x="520.40" y="467.98" width="43.30" height="53.80" fill="none" stroke="#9a9a9a" stroke-width="0.6"/>
<line x1="520.40" y1="521.78" x2="520.40" y2="523.28" stroke="#555" stroke-width="0.5"/>
<text x="520.40" y="528.70" font-size="5.5" text-anchor="middle" fill="#3a3a3a" stroke="#3a3a3a" stroke-width="0.12">0</text>
<line x1="534.15" y1="521.78" x2="534.15" y2="523.28" stroke="#555" stroke-width="0.5"/>
<text x="534.15" y="528.70" font-size="5.5" text-anchor="middle" fill="#3a3a3a" stroke="#3a3a3a" stroke-width="0.12">5</text>
<line x1="547.89" y1="521.78" x2="547.89" y2="523.28" stroke="#555" stroke-width="0.5"/>
<text x="547.89" y="528.70" font-size="5.5" text-anchor="middle" fill="#3a3a3a" stroke="#3a3a3a" stroke-width="0.12">10</text>
<line x1="561.64" y1="521.78" x2="561.64" y2="523.28" stroke="#555" stroke-width="0.5"/>
<text x="561.64" y="528.70" font-size="5.5" text-anchor="middle" fill="#3a3a3a" stroke="#3a3a3a" stroke-width="0.12">15</text>
<text x="565.60" y="556.50" font-size="9.5" fill="#1a1a1a">Strategy used</text>
<rect x="565.60" y="560.20" width="6.40" height="10.60" fill="#2CA02C"/>
<rect x="565.90" y="570.90" width="5.80" height="10.00" fill="#ffffff" stroke="#e6e6e6" stroke-width="0.5"/>
<text x="574.00" y="569.20" font-size="9.5" fill="#1a1a1a">Yes</text>
<text x="574.00" y="579.70" font-size="9.5" fill="#1a1a1a">No</text>
</svg>
</body></html>
